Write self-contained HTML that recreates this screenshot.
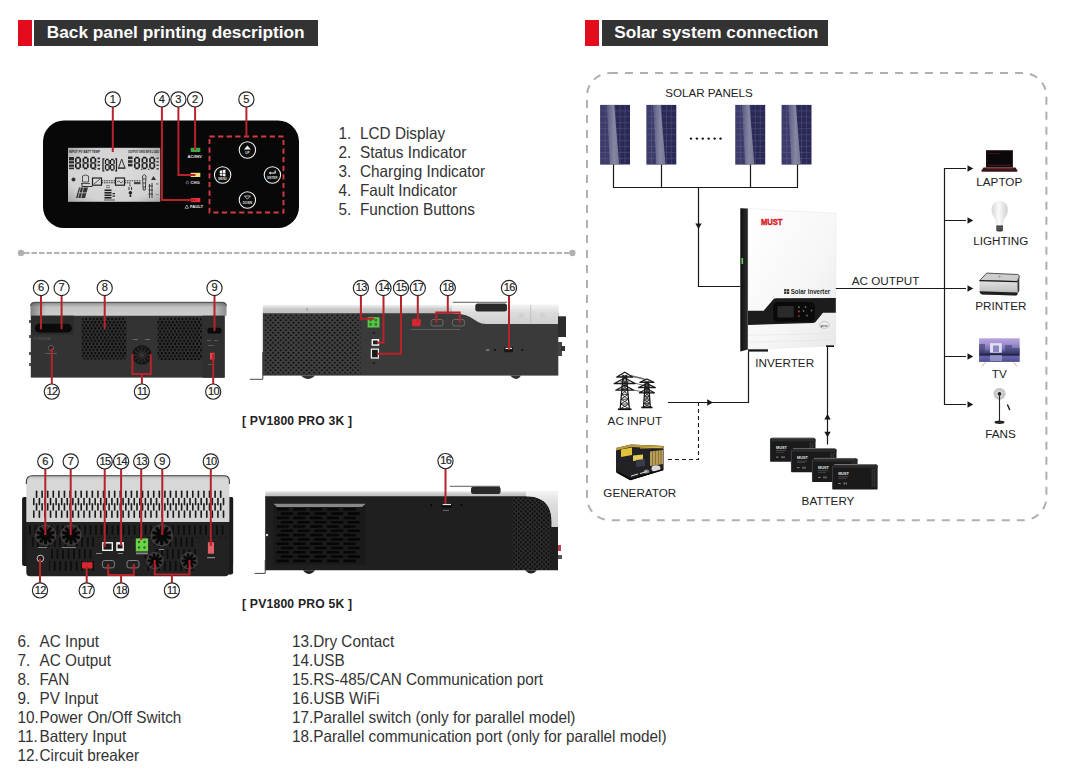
<!DOCTYPE html><html><head><meta charset="utf-8"><style>html,body{margin:0;padding:0;background:#fff;}svg{display:block;}text{font-family:"Liberation Sans",sans-serif;}</style></head><body>
<svg width="1068" height="781" viewBox="0 0 1068 781">
<defs><linearGradient id="silver" x1="0" y1="0" x2="0" y2="1"><stop offset="0" stop-color="#8a8a8a"/><stop offset="0.35" stop-color="#c4c4c4"/><stop offset="1" stop-color="#cdcdcd"/></linearGradient><linearGradient id="silverEnds" x1="0" y1="0" x2="1" y2="0"><stop offset="0" stop-color="#000" stop-opacity="0.35"/><stop offset="0.08" stop-color="#000" stop-opacity="0"/><stop offset="0.92" stop-color="#000" stop-opacity="0"/><stop offset="1" stop-color="#000" stop-opacity="0.3"/></linearGradient><linearGradient id="silverH" x1="0" y1="0" x2="1" y2="0"><stop offset="0" stop-color="#b8b8b8"/><stop offset="0.5" stop-color="#e0e0e0"/><stop offset="1" stop-color="#c8c8c8"/></linearGradient><pattern id="hex" width="3.7" height="6.2" patternUnits="userSpaceOnUse" x="81.5" y="317.5"><rect width="3.7" height="6.2" fill="#343434"/><circle cx="0.925" cy="1.55" r="1.3" fill="#0a0a0a"/><circle cx="2.775" cy="4.65" r="1.3" fill="#0a0a0a"/></pattern><pattern id="dots" width="5.15" height="5" patternUnits="userSpaceOnUse" x="264" y="314"><rect width="5.15" height="5" fill="#404040"/><circle cx="1.3" cy="1.25" r="1.0" fill="#0a0a0a"/><circle cx="3.85" cy="3.75" r="1.0" fill="#0a0a0a"/></pattern><pattern id="dots2" width="4.6" height="4.4" patternUnits="userSpaceOnUse"><rect width="4.6" height="4.4" fill="#2e2e2e"/><circle cx="1.15" cy="1.1" r="1.0" fill="#050505"/><circle cx="3.45" cy="3.3" r="1.0" fill="#050505"/></pattern><linearGradient id="panelStreak" x1="0" y1="0" x2="1" y2="0"><stop offset="0" stop-color="#5a5a82"/><stop offset="0.6" stop-color="#9494ac"/><stop offset="1" stop-color="#7c7c98"/></linearGradient></defs>
<rect x="18" y="20" width="14" height="26" fill="#e20c1c"/>
<rect x="34" y="20" width="284" height="26" fill="#333333"/>
<text x="46.8" y="38" font-size="17.25" font-weight="bold" fill="#fff">Back panel printing description</text>
<rect x="585" y="20" width="14" height="26" fill="#e20c1c"/>
<rect x="602" y="20" width="226" height="26" fill="#333333"/>
<text x="614.2" y="38" font-size="17.25" font-weight="bold" fill="#fff">Solar system connection</text>
<rect x="43" y="120.5" width="256" height="107.5" rx="21" fill="#080808"/>
<radialGradient id="lcdG" cx="0.5" cy="0.5" r="0.7"><stop offset="0" stop-color="#dcdcdc"/><stop offset="0.7" stop-color="#d2d2d2"/><stop offset="1" stop-color="#a8a8a8"/></radialGradient><rect x="68" y="147.8" width="92.2" height="54" fill="url(#lcdG)"/>
<g fill="#2a2a2a">
<text x="69" y="153.3" font-size="3.2" font-weight="bold" textLength="31" lengthAdjust="spacingAndGlyphs">INPUT  PV BATT TEMP</text>
<text x="128" y="153.3" font-size="3.2" font-weight="bold" textLength="31" lengthAdjust="spacingAndGlyphs">OUTPUT GRID BYS LOAD</text>
</g>
<g stroke="#1c1c1c" stroke-width="1.7" stroke-linecap="butt" fill="none"><path d="M76.3 157.7 H79.7 M80.2 158.2 V162.5 M80.2 163.5 V167.79999999999998 M79.7 168.29999999999998 H76.3 M75.8 167.79999999999998 V163.5 M75.8 162.5 V158.2 M76.3 163.0 H79.7"/></g>
<g stroke="#1c1c1c" stroke-width="1.7" stroke-linecap="butt" fill="none"><path d="M83.89999999999999 157.7 H87.3 M87.8 158.2 V162.5 M87.8 163.5 V167.79999999999998 M87.3 168.29999999999998 H83.89999999999999 M83.39999999999999 167.79999999999998 V163.5 M83.39999999999999 162.5 V158.2 M83.89999999999999 163.0 H87.3"/></g>
<g stroke="#1c1c1c" stroke-width="1.7" stroke-linecap="butt" fill="none"><path d="M91.5 157.7 H94.9 M95.4 158.2 V162.5 M95.4 163.5 V167.79999999999998 M94.9 168.29999999999998 H91.5 M91.0 167.79999999999998 V163.5 M91.0 162.5 V158.2 M91.5 163.0 H94.9"/></g>
<circle cx="95.2" cy="169.2" r="0.7" fill="#1c1c1c"/>
<g fill="#2a2a2a"><rect x="69" y="157" width="5" height="3.4"/><rect x="69" y="161.2" width="5" height="2.2"/><rect x="69" y="164.6" width="5" height="2.2"/><rect x="69" y="167.6" width="5" height="1.6"/></g>
<g fill="#333"><rect x="97.5" y="157.5" width="2.5" height="1.8"/><rect x="97.5" y="161" width="2.5" height="1.6"/><rect x="97.5" y="164.5" width="2.5" height="1.6"/><rect x="97.5" y="168" width="2.5" height="1.6"/></g>
<path d="M104.5 158.8 H103 V171 H104.5 M115 158.8 H116.5 V171 H115" stroke="#1c1c1c" stroke-width="1.2" fill="none"/>
<g stroke="#1c1c1c" stroke-width="1.3" stroke-linecap="butt" fill="none"><path d="M106.0 159.5 H108.6 M109.1 160.0 V164.25 M109.1 165.25 V169.5 M108.6 170.0 H106.0 M105.5 169.5 V165.25 M105.5 164.25 V160.0 M106.0 164.75 H108.6"/></g>
<g stroke="#1c1c1c" stroke-width="1.3" stroke-linecap="butt" fill="none"><path d="M111.0 159.5 H113.6 M114.1 160.0 V164.25 M114.1 165.25 V169.5 M113.6 170.0 H111.0 M110.5 169.5 V165.25 M110.5 164.25 V160.0 M111.0 164.75 H113.6"/></g>
<path d="M118.5 168 L121.7 159 L125 168 Z" fill="none" stroke="#333" stroke-width="1"/><rect x="118" y="167.5" width="7.5" height="1.5" fill="#444"/>
<g stroke="#1c1c1c" stroke-width="1.7" stroke-linecap="butt" fill="none"><path d="M135.3 157.7 H138.70000000000002 M139.20000000000002 158.2 V162.5 M139.20000000000002 163.5 V167.79999999999998 M138.70000000000002 168.29999999999998 H135.3 M134.8 167.79999999999998 V163.5 M134.8 162.5 V158.2 M135.3 163.0 H138.70000000000002"/></g>
<g stroke="#1c1c1c" stroke-width="1.7" stroke-linecap="butt" fill="none"><path d="M142.9 157.7 H146.3 M146.8 158.2 V162.5 M146.8 163.5 V167.79999999999998 M146.3 168.29999999999998 H142.9 M142.4 167.79999999999998 V163.5 M142.4 162.5 V158.2 M142.9 163.0 H146.3"/></g>
<g stroke="#1c1c1c" stroke-width="1.7" stroke-linecap="butt" fill="none"><path d="M150.5 157.7 H153.9 M154.4 158.2 V162.5 M154.4 163.5 V167.79999999999998 M153.9 168.29999999999998 H150.5 M150.0 167.79999999999998 V163.5 M150.0 162.5 V158.2 M150.5 163.0 H153.9"/></g>
<circle cx="141.8" cy="169.2" r="0.7" fill="#1c1c1c"/><circle cx="148.8" cy="169.2" r="0.7" fill="#1c1c1c"/>
<g fill="#2a2a2a"><rect x="128" y="156.5" width="4.5" height="2.6"/><rect x="128" y="160.2" width="4.5" height="2.6"/><rect x="128" y="163.8" width="4.5" height="2.6"/></g>
<g fill="#444"><rect x="156.5" y="157.5" width="2.2" height="1.6"/><rect x="156.5" y="161" width="2.2" height="1.6"/><rect x="156.5" y="164.5" width="2.2" height="1.6"/><rect x="156.5" y="168" width="2.2" height="1.6"/></g>
<circle cx="73.5" cy="179.5" r="2" fill="#333"/>
<path d="M82.5 182 V176 Q85.5 174 88.5 176 V182 Z" fill="none" stroke="#444" stroke-width="0.9"/><path d="M81 183.5 H90" stroke="#444" stroke-width="0.9"/>
<path d="M82 183.5 V186.5 H92.5" stroke="#333" stroke-width="1" fill="none"/>
<rect x="92.5" y="178" width="9" height="7.2" fill="none" stroke="#222" stroke-width="1.2"/><path d="M94 184 L100 179" stroke="#333" stroke-width="0.8"/>
<path d="M101.5 180.8 H115" stroke="#222" stroke-width="0.9" stroke-dasharray="1.6 0.8"/><path d="M101.5 182.8 H115" stroke="#222" stroke-width="0.9" stroke-dasharray="1.6 0.8"/>
<rect x="115.5" y="178" width="9" height="7.2" fill="none" stroke="#222" stroke-width="1.2"/><path d="M117 182 Q119 179.5 120 182 T123 181" stroke="#333" stroke-width="0.8" fill="none"/>
<path d="M124.5 180.8 H141" stroke="#222" stroke-width="0.9" stroke-dasharray="1.6 0.8"/><path d="M124.5 182.8 H130 V187" stroke="#222" stroke-width="0.9" fill="none" stroke-dasharray="1.6 0.8"/>
<path d="M107 185 V189" stroke="#222" stroke-width="0.9" stroke-dasharray="1.2 0.8"/><path d="M109 185 V189" stroke="#222" stroke-width="0.9" stroke-dasharray="1.2 0.8"/>
<g fill="#222"><rect x="104.5" y="189.5" width="7" height="1.6"/><rect x="104.5" y="192" width="7" height="1.6"/><rect x="104.5" y="194.5" width="7" height="1.6"/><rect x="104.5" y="197" width="7" height="1.6"/><rect x="112.5" y="193" width="2.5" height="1.2"/><rect x="112.5" y="195.5" width="2.5" height="1.2"/></g>
<rect x="104" y="199.5" width="11" height="1" fill="#555"/>
<path d="M129 187 V190 M131.5 187 V190" stroke="#222" stroke-width="0.9"/><circle cx="130.4" cy="192.8" r="1.8" fill="#222"/><rect x="129.6" y="194.5" width="1.6" height="2.5" fill="#222"/>
<rect x="134" y="182" width="6.5" height="2.2" fill="#444"/>
<path d="M142.5 176 L144.3 174.5 L146 176 L145.3 190 H143.2 Z M143 179 H145.5 M143 183 H145.5 M143 187 H145.5" fill="none" stroke="#333" stroke-width="0.9"/>
<path d="M151 180 L153.5 176 L156 180 Z" fill="#333"/>
<path d="M149.5 184 V198 M152 183 V198 M148.5 186 H153 M148.5 190 H153 M148.5 194 H153" stroke="#333" stroke-width="0.9"/>
<rect x="156" y="183.5" width="2.5" height="0.9" fill="#555"/><rect x="156" y="194" width="2.5" height="0.9" fill="#777"/>
<path d="M76 198 L79 187.5 H88 L85 198 Z" fill="#333"/><path d="M78.5 192.8 H87 M80.5 187.5 L78 198 M83.5 187.5 L81 198" stroke="#d4d4d4" stroke-width="0.7"/>
<rect x="190.7" y="147.8" width="9.6" height="4.2" fill="#3aa848"/>
<rect x="190.7" y="172.8" width="9.6" height="4.2" fill="#f0e07a"/>
<rect x="190.7" y="198" width="9.6" height="4.2" fill="#e0303a"/>
<g fill="#e8e8e8" font-weight="bold" font-size="4.2"><text x="187.5" y="157.8">AC/INV</text><text x="190.5" y="184.2">CHG</text><text x="190" y="208.4">FAULT</text></g>
<circle cx="187.3" cy="182.6" r="1.3" fill="none" stroke="#bbb" stroke-width="0.5"/>
<path d="M185 208.3 L186.8 205 L188.6 208.3 Z" fill="none" stroke="#ddd" stroke-width="0.6"/>
<rect x="209.5" y="136.5" width="74" height="76" fill="none" stroke="#d23a44" stroke-width="1.9" stroke-dasharray="5.2 3.4"/>
<circle cx="247.4" cy="150" r="8.2" fill="#0c0c0c" stroke="#f0f0f0" stroke-width="1.1"/>
<path d="M244.0 149.4 L247.4 145.4 L250.8 149.4 Z" fill="#f4f4f4"/>
<text x="247.4" y="153.6" font-size="3.2" fill="#ddd" text-anchor="middle" font-weight="bold">UP</text>
<circle cx="222.6" cy="175" r="8.2" fill="#0c0c0c" stroke="#f0f0f0" stroke-width="1.1"/>
<g fill="#f4f4f4"><path d="M219.79999999999998 170.7 L222.29999999999998 170.2 V172.9 H219.79999999999998 Z M222.9 170.1 L225.5 169.6 V172.9 H222.9 Z M219.79999999999998 173.4 H222.29999999999998 V175.9 L219.79999999999998 175.4 Z M222.9 173.4 H225.5 V176.5 L222.9 176 Z"/></g>
<text x="222.6" y="179.6" font-size="3" fill="#ddd" text-anchor="middle" font-weight="bold">MENU</text>
<circle cx="272.4" cy="175" r="8.2" fill="#0c0c0c" stroke="#f0f0f0" stroke-width="1.1"/>
<path d="M275.2 170.5 V173 H269.9" stroke="#f4f4f4" stroke-width="1.1" fill="none"/><path d="M268.79999999999995 173 L270.59999999999997 171.6 V174.4 Z" fill="#f4f4f4"/>
<text x="272.4" y="178.8" font-size="3" fill="#ddd" text-anchor="middle" font-weight="bold">ENTER</text>
<circle cx="247.4" cy="200" r="8.2" fill="#0c0c0c" stroke="#f0f0f0" stroke-width="1.1"/>
<path d="M244.4 196 L247.4 199.2 L250.4 196 Z" fill="none" stroke="#eee" stroke-width="0.7"/>
<text x="247.4" y="203.6" font-size="3" fill="#ddd" text-anchor="middle" font-weight="bold">DOWN</text>
<polyline points="112.8,107 112.8,152" fill="none" stroke="#b8222b" stroke-width="2" stroke-linejoin="miter"/>
<polyline points="195.1,107 195.1,150" fill="none" stroke="#b8222b" stroke-width="2" stroke-linejoin="miter"/>
<polyline points="178.4,107 178.4,175 195.5,175" fill="none" stroke="#b8222b" stroke-width="2" stroke-linejoin="miter"/>
<polyline points="161.9,107 161.9,200 195.5,200" fill="none" stroke="#b8222b" stroke-width="2" stroke-linejoin="miter"/>
<polyline points="246.4,107 246.4,136.5" fill="none" stroke="#b8222b" stroke-width="2" stroke-linejoin="miter"/>
<circle cx="112.8" cy="99.4" r="7.6" fill="#fff" stroke="#262626" stroke-width="1.15"/>
<text x="112.8" y="102.65" font-size="11" text-anchor="middle" fill="#1e1e1e" stroke="#1e1e1e" stroke-width="0.2">1</text>
<circle cx="161.9" cy="99.4" r="7.6" fill="#fff" stroke="#262626" stroke-width="1.15"/>
<text x="161.9" y="102.65" font-size="11" text-anchor="middle" fill="#1e1e1e" stroke="#1e1e1e" stroke-width="0.2">4</text>
<circle cx="178.4" cy="99.4" r="7.6" fill="#fff" stroke="#262626" stroke-width="1.15"/>
<text x="178.4" y="102.65" font-size="11" text-anchor="middle" fill="#1e1e1e" stroke="#1e1e1e" stroke-width="0.2">3</text>
<circle cx="195.1" cy="99.4" r="7.6" fill="#fff" stroke="#262626" stroke-width="1.15"/>
<text x="195.1" y="102.65" font-size="11" text-anchor="middle" fill="#1e1e1e" stroke="#1e1e1e" stroke-width="0.2">2</text>
<circle cx="246.4" cy="99.4" r="7.6" fill="#fff" stroke="#262626" stroke-width="1.15"/>
<text x="246.4" y="102.65" font-size="11" text-anchor="middle" fill="#1e1e1e" stroke="#1e1e1e" stroke-width="0.2">5</text>
<g font-size="16.31" fill="#333333" transform="scale(0.94,1)">
<text x="360.11" y="139">1.</text><text x="382.98" y="139">LCD Display</text>
<text x="360.11" y="158">2.</text><text x="382.98" y="158">Status Indicator</text>
<text x="360.11" y="177">3.</text><text x="382.98" y="177">Charging Indicator</text>
<text x="360.11" y="196">4.</text><text x="382.98" y="196">Fault Indicator</text>
<text x="360.11" y="215">5.</text><text x="382.98" y="215">Function Buttons</text>
</g>
<line x1="24" y1="253" x2="569" y2="253" stroke="#b4b4b4" stroke-width="2" stroke-dasharray="5.5 2"/>
<circle cx="21" cy="253" r="3.2" fill="#b0b0b0"/><circle cx="572.4" cy="253" r="3.2" fill="#b0b0b0"/>
<g font-size="16.31" fill="#333333" transform="scale(0.94,1)">
<text x="18.62" y="647">6.</text><text x="42.02" y="647">AC Input</text>
<text x="18.62" y="666">7.</text><text x="42.02" y="666">AC Output</text>
<text x="18.62" y="685">8.</text><text x="42.02" y="685">FAN</text>
<text x="18.62" y="704">9.</text><text x="42.02" y="704">PV Input</text>
<text x="18.62" y="723">10.</text><text x="42.02" y="723">Power On/Off Switch</text>
<text x="18.62" y="742">11.</text><text x="42.02" y="742">Battery Input</text>
<text x="18.62" y="761">12.</text><text x="42.02" y="761">Circuit breaker</text>
<text x="310.64" y="647">13.Dry Contact</text>
<text x="310.64" y="666">14.USB</text>
<text x="310.64" y="685">15.RS-485/CAN Communication port</text>
<text x="310.64" y="704">16.USB WiFi</text>
<text x="310.64" y="723">17.Parallel switch (only for parallel model)</text>
<text x="310.64" y="742">18.Parallel communication port (only for parallel model)</text>
</g>
<text x="242" y="425" font-size="12.2" font-weight="bold" fill="#222" letter-spacing="0.19">[ PV1800 PRO 3K ]</text>
<text x="242" y="608.2" font-size="12.2" font-weight="bold" fill="#222" letter-spacing="0.19">[ PV1800 PRO 5K ]</text>
<path d="M30.5 315.7 V306 Q30.5 302.3 34.5 302.3 H222.5 Q226.5 302.3 226.5 306 V315.7 Z" fill="url(#silver)"/>
<path d="M30.5 315.7 V306 Q30.5 302.3 34.5 302.3 H222.5 Q226.5 302.3 226.5 306 V315.7 Z" fill="url(#silverEnds)"/>
<path d="M30.5 306 Q30.5 302.3 34.5 302.3 H222.5 Q226.5 302.3 226.5 306" fill="none" stroke="#3a3a3a" stroke-width="0.9"/>
<rect x="30.8" y="315.7" width="193.9" height="61.9" fill="#333333"/>
<rect x="31" y="315.7" width="43" height="19" fill="#2b2b2b"/>
<rect x="34.8" y="323.8" width="37" height="8.8" rx="4.4" fill="#0a0a0a"/>
<g fill="#666" font-size="2.6"><text x="34" y="340">LC   IN     OUT   AC</text></g>
<circle cx="51" cy="348.2" r="2.7" fill="#222" stroke="#777" stroke-width="0.7"/>
<rect x="45" y="353" width="12" height="0.8" fill="#666"/>
<rect x="81.5" y="317.5" width="45" height="42" rx="3" fill="url(#hex)"/>
<rect x="157.5" y="317.5" width="44.5" height="42.5" rx="3" fill="url(#hex)"/>
<rect x="202.5" y="315.7" width="22" height="62" fill="#2f2f2f"/>
<rect x="207.3" y="327.7" width="14.3" height="5.9" rx="2.9" fill="#0a0a0a"/>
<g fill="#666"><rect x="207" y="340" width="4" height="0.8"/><rect x="214" y="340" width="4" height="0.8"/><rect x="208" y="345" width="6" height="0.8"/><rect x="208" y="364" width="6" height="0.8"/></g>
<rect x="210" y="352.8" width="4.5" height="6.8" fill="#e8404a"/>
<circle cx="141.9" cy="355" r="9.8" fill="#151515"/>
<g stroke="#3a3a3a" stroke-width="0.9"><line x1="141.9" y1="355" x2="150.40" y2="355.00"/><line x1="141.9" y1="355" x2="149.26" y2="359.25"/><line x1="141.9" y1="355" x2="146.15" y2="362.36"/><line x1="141.9" y1="355" x2="141.90" y2="363.50"/><line x1="141.9" y1="355" x2="137.65" y2="362.36"/><line x1="141.9" y1="355" x2="134.54" y2="359.25"/><line x1="141.9" y1="355" x2="133.40" y2="355.00"/><line x1="141.9" y1="355" x2="134.54" y2="350.75"/><line x1="141.9" y1="355" x2="137.65" y2="347.64"/><line x1="141.9" y1="355" x2="141.90" y2="346.50"/><line x1="141.9" y1="355" x2="146.15" y2="347.64"/><line x1="141.9" y1="355" x2="149.26" y2="350.75"/></g>
<g fill="#777"><rect x="133" y="339" width="5" height="0.8"/><rect x="145" y="339" width="5" height="0.8"/></g>
<g fill="#555"><rect x="29" y="320" width="2" height="3"/><rect x="29" y="335" width="2" height="3"/><rect x="29" y="352" width="2" height="3"/><rect x="29" y="363" width="2" height="3"/></g>
<polyline points="41,296 41,329.2" fill="none" stroke="#b8222b" stroke-width="2" stroke-linejoin="miter"/>
<polyline points="61.6,296 61.6,329.2" fill="none" stroke="#b8222b" stroke-width="2" stroke-linejoin="miter"/>
<polyline points="104.7,296 104.7,329" fill="none" stroke="#b8222b" stroke-width="2" stroke-linejoin="miter"/>
<polyline points="214.5,296 214.5,331" fill="none" stroke="#b8222b" stroke-width="2" stroke-linejoin="miter"/>
<polyline points="51.8,384 51.8,348" fill="none" stroke="#b8222b" stroke-width="2" stroke-linejoin="miter"/>
<polyline points="141.9,384 141.9,374 132.4,374 132.4,354" fill="none" stroke="#b8222b" stroke-width="2" stroke-linejoin="miter"/>
<polyline points="141.9,374 150.8,374 150.8,354" fill="none" stroke="#b8222b" stroke-width="2" stroke-linejoin="miter"/>
<polyline points="213.2,384 213.2,354" fill="none" stroke="#b8222b" stroke-width="2" stroke-linejoin="miter"/>
<circle cx="41" cy="288" r="7.6" fill="#fff" stroke="#262626" stroke-width="1.15"/>
<text x="41" y="291.25" font-size="11" text-anchor="middle" fill="#1e1e1e" stroke="#1e1e1e" stroke-width="0.2">6</text>
<circle cx="61.6" cy="288" r="7.6" fill="#fff" stroke="#262626" stroke-width="1.15"/>
<text x="61.6" y="291.25" font-size="11" text-anchor="middle" fill="#1e1e1e" stroke="#1e1e1e" stroke-width="0.2">7</text>
<circle cx="104.7" cy="288" r="7.6" fill="#fff" stroke="#262626" stroke-width="1.15"/>
<text x="104.7" y="291.25" font-size="11" text-anchor="middle" fill="#1e1e1e" stroke="#1e1e1e" stroke-width="0.2">8</text>
<circle cx="214.5" cy="288" r="7.6" fill="#fff" stroke="#262626" stroke-width="1.15"/>
<text x="214.5" y="291.25" font-size="11" text-anchor="middle" fill="#1e1e1e" stroke="#1e1e1e" stroke-width="0.2">9</text>
<circle cx="51.8" cy="391.6" r="7.6" fill="#fff" stroke="#262626" stroke-width="1.15"/>
<text x="52.099999999999994" y="394.85" font-size="11" text-anchor="middle" fill="#1e1e1e" stroke="#1e1e1e" stroke-width="0.2" letter-spacing="-0.6">12</text>
<circle cx="141.9" cy="391.6" r="7.6" fill="#fff" stroke="#262626" stroke-width="1.15"/>
<text x="142.20000000000002" y="394.85" font-size="11" text-anchor="middle" fill="#1e1e1e" stroke="#1e1e1e" stroke-width="0.2" letter-spacing="-0.6">11</text>
<circle cx="213.2" cy="391.6" r="7.6" fill="#fff" stroke="#262626" stroke-width="1.15"/>
<text x="213.5" y="394.85" font-size="11" text-anchor="middle" fill="#1e1e1e" stroke="#1e1e1e" stroke-width="0.2" letter-spacing="-0.6">10</text>
<linearGradient id="sideSilver" x1="0" y1="0" x2="0" y2="1"><stop offset="0" stop-color="#f2f2f2"/><stop offset="0.5" stop-color="#c8c8c8"/><stop offset="1" stop-color="#bdbdbd"/></linearGradient>
<linearGradient id="sideSilver2" x1="0" y1="0" x2="0" y2="1"><stop offset="0" stop-color="#f4f4f4"/><stop offset="0.4" stop-color="#dcdcdc"/><stop offset="1" stop-color="#d0d0d0"/></linearGradient>
<rect x="262.8" y="304.8" width="295.5" height="8.6" fill="url(#sideSilver)"/>
<rect x="262.8" y="313.2" width="295.5" height="62.4" fill="#3a3a3a"/>
<path d="M452 313.3 Q462 313.3 470 317 L478 322 Q481 324 486 324 H558.3 V304.8 H452 Z" fill="url(#sideSilver2)"/>
<line x1="530.7" y1="305" x2="530.7" y2="324" stroke="#b8b8b8" stroke-width="0.7"/>
<rect x="520" y="314" width="3" height="3" fill="none" stroke="#bbb" stroke-width="0.5"/><rect x="541" y="314" width="3" height="3" fill="none" stroke="#bbb" stroke-width="0.5"/>
<rect x="475.3" y="303.5" width="31.7" height="8" rx="2.5" fill="#2a2a2a"/>
<line x1="452.8" y1="302.3" x2="507" y2="302.3" stroke="#333" stroke-width="0.8"/>
<rect x="558" y="316.3" width="8" height="20.7" fill="#2c2c2c"/>
<rect x="558" y="342" width="4" height="14" fill="#444"/><rect x="561" y="346" width="4" height="5" fill="#333"/>
<rect x="264.9" y="314.5" width="95.5" height="60.5" fill="url(#dots)"/>
<rect x="306" y="308" width="2" height="3" fill="#aaa"/>
<path d="M301 375.6 Q304 379 308 379 Q312 379 315 375.6 Z" fill="#333"/><path d="M510 375.6 Q513 379 516 379 Q519 379 521 375.6 Z" fill="#333"/>
<polyline points="249.8,379.3 262.8,379.3 262.8,352" fill="none" stroke="#333" stroke-width="0.9"/>
<rect x="367.6" y="317.2" width="11.9" height="10.3" fill="#5cc84a"/>
<g fill="#2f7a2a"><rect x="369.3" y="318.8" width="2.6" height="2.6"/><rect x="374.5" y="318.8" width="2.6" height="2.6"/><rect x="369.3" y="323" width="2.6" height="2.6"/><rect x="374.5" y="323" width="2.6" height="2.6"/></g>
<circle cx="374" cy="333" r="1.3" fill="#222"/><circle cx="374" cy="363" r="1.3" fill="#222"/>
<rect x="371.6" y="339" width="7.6" height="6.8" fill="#f2f2f2"/><rect x="373" y="340.5" width="4.8" height="3.8" fill="#222"/>
<rect x="370.8" y="348.5" width="8.2" height="10.1" fill="#f2f2f2"/><rect x="372" y="349.8" width="5.8" height="7.5" fill="#1a1a1a"/>
<rect x="412" y="318.8" width="8.7" height="7.5" rx="1.5" fill="#d8262e"/>
<rect x="431" y="319.5" width="12" height="6.5" rx="2" fill="none" stroke="#777" stroke-width="0.8"/><rect x="452.5" y="319.5" width="12" height="6.5" rx="2" fill="none" stroke="#777" stroke-width="0.8"/>
<rect x="410" y="329" width="50" height="0.8" fill="#666"/>
<circle cx="495" cy="350" r="1.1" fill="#111"/><circle cx="522.2" cy="350" r="1.1" fill="#111"/><rect x="486" y="349.4" width="3.5" height="1.4" fill="#888"/>
<rect x="504.3" y="347.1" width="8.7" height="5.1" rx="0.8" fill="#151515"/><rect x="505.5" y="347.8" width="6.4" height="1.2" fill="#eee"/>
<polyline points="360.9,296 360.9,318.8 374,318.8" fill="none" stroke="#b8222b" stroke-width="2" stroke-linejoin="miter"/>
<polyline points="383.5,296 383.5,342.7 377,342.7" fill="none" stroke="#b8222b" stroke-width="2" stroke-linejoin="miter"/>
<polyline points="401,296 401,353.8 377,353.8" fill="none" stroke="#b8222b" stroke-width="2" stroke-linejoin="miter"/>
<polyline points="417.8,296 417.8,322" fill="none" stroke="#b8222b" stroke-width="2" stroke-linejoin="miter"/>
<polyline points="447.8,296 447.8,312.4" fill="none" stroke="#b8222b" stroke-width="2" stroke-linejoin="miter"/>
<polyline points="436.3,322.8 436.3,312.4 459.7,312.4 459.7,322.8" fill="none" stroke="#b8222b" stroke-width="2" stroke-linejoin="miter"/>
<polyline points="509,296 509,350" fill="none" stroke="#b8222b" stroke-width="2" stroke-linejoin="miter"/>
<circle cx="360.9" cy="288" r="7.6" fill="#fff" stroke="#262626" stroke-width="1.15"/>
<text x="361.2" y="291.25" font-size="11" text-anchor="middle" fill="#1e1e1e" stroke="#1e1e1e" stroke-width="0.2" letter-spacing="-0.6">13</text>
<circle cx="383.5" cy="288" r="7.6" fill="#fff" stroke="#262626" stroke-width="1.15"/>
<text x="383.8" y="291.25" font-size="11" text-anchor="middle" fill="#1e1e1e" stroke="#1e1e1e" stroke-width="0.2" letter-spacing="-0.6">14</text>
<circle cx="401" cy="288" r="7.6" fill="#fff" stroke="#262626" stroke-width="1.15"/>
<text x="401.3" y="291.25" font-size="11" text-anchor="middle" fill="#1e1e1e" stroke="#1e1e1e" stroke-width="0.2" letter-spacing="-0.6">15</text>
<circle cx="417.8" cy="288" r="7.6" fill="#fff" stroke="#262626" stroke-width="1.15"/>
<text x="418.1" y="291.25" font-size="11" text-anchor="middle" fill="#1e1e1e" stroke="#1e1e1e" stroke-width="0.2" letter-spacing="-0.6">17</text>
<circle cx="447.8" cy="288" r="7.6" fill="#fff" stroke="#262626" stroke-width="1.15"/>
<text x="448.1" y="291.25" font-size="11" text-anchor="middle" fill="#1e1e1e" stroke="#1e1e1e" stroke-width="0.2" letter-spacing="-0.6">18</text>
<circle cx="509" cy="288" r="7.6" fill="#fff" stroke="#262626" stroke-width="1.15"/>
<text x="509.3" y="291.25" font-size="11" text-anchor="middle" fill="#1e1e1e" stroke="#1e1e1e" stroke-width="0.2" letter-spacing="-0.6">16</text>
<linearGradient id="silver5" x1="0" y1="0" x2="0" y2="1"><stop offset="0" stop-color="#c0c0c0"/><stop offset="0.1" stop-color="#d8d8d8"/><stop offset="1" stop-color="#d4d4d4"/></linearGradient>
<rect x="22.1" y="497" width="211" height="69" rx="2" fill="#1a1a1a"/><rect x="200" y="497" width="33.1" height="77.5" rx="2" fill="#1a1a1a"/>
<path d="M26.3 522 V482 Q26.3 475.7 32.5 475.7 H224 Q229.4 475.7 229.4 481 V522 Z" fill="url(#silver5)"/>
<path d="M26.3 484 V482 Q26.3 475.7 32.5 475.7 H224 Q229.4 475.7 229.4 481 V484" fill="none" stroke="#3a3a3a" stroke-width="1.1"/>
<g fill="#1a1a1a"><rect x="35.75" y="490.4" width="1.6" height="7.6" rx="0.8"/><rect x="35.75" y="503" width="1.6" height="7.8" rx="0.8"/><rect x="33.00" y="497.7" width="1.6" height="7.7" rx="0.8"/><rect x="33.00" y="510.2" width="1.6" height="7.8" rx="0.8"/><rect x="41.33" y="490.4" width="1.6" height="7.6" rx="0.8"/><rect x="41.33" y="503" width="1.6" height="7.8" rx="0.8"/><rect x="38.58" y="497.7" width="1.6" height="7.7" rx="0.8"/><rect x="38.58" y="510.2" width="1.6" height="7.8" rx="0.8"/><rect x="46.91" y="490.4" width="1.6" height="7.6" rx="0.8"/><rect x="46.91" y="503" width="1.6" height="7.8" rx="0.8"/><rect x="44.16" y="497.7" width="1.6" height="7.7" rx="0.8"/><rect x="44.16" y="510.2" width="1.6" height="7.8" rx="0.8"/><rect x="52.49" y="490.4" width="1.6" height="7.6" rx="0.8"/><rect x="52.49" y="503" width="1.6" height="7.8" rx="0.8"/><rect x="49.74" y="497.7" width="1.6" height="7.7" rx="0.8"/><rect x="49.74" y="510.2" width="1.6" height="7.8" rx="0.8"/><rect x="58.07" y="490.4" width="1.6" height="7.6" rx="0.8"/><rect x="58.07" y="503" width="1.6" height="7.8" rx="0.8"/><rect x="55.32" y="497.7" width="1.6" height="7.7" rx="0.8"/><rect x="55.32" y="510.2" width="1.6" height="7.8" rx="0.8"/><rect x="63.65" y="490.4" width="1.6" height="7.6" rx="0.8"/><rect x="63.65" y="503" width="1.6" height="7.8" rx="0.8"/><rect x="60.90" y="497.7" width="1.6" height="7.7" rx="0.8"/><rect x="60.90" y="510.2" width="1.6" height="7.8" rx="0.8"/><rect x="69.23" y="490.4" width="1.6" height="7.6" rx="0.8"/><rect x="69.23" y="503" width="1.6" height="7.8" rx="0.8"/><rect x="66.48" y="497.7" width="1.6" height="7.7" rx="0.8"/><rect x="66.48" y="510.2" width="1.6" height="7.8" rx="0.8"/><rect x="74.81" y="490.4" width="1.6" height="7.6" rx="0.8"/><rect x="74.81" y="503" width="1.6" height="7.8" rx="0.8"/><rect x="72.06" y="497.7" width="1.6" height="7.7" rx="0.8"/><rect x="72.06" y="510.2" width="1.6" height="7.8" rx="0.8"/><rect x="80.39" y="490.4" width="1.6" height="7.6" rx="0.8"/><rect x="80.39" y="503" width="1.6" height="7.8" rx="0.8"/><rect x="77.64" y="497.7" width="1.6" height="7.7" rx="0.8"/><rect x="77.64" y="510.2" width="1.6" height="7.8" rx="0.8"/><rect x="85.97" y="490.4" width="1.6" height="7.6" rx="0.8"/><rect x="85.97" y="503" width="1.6" height="7.8" rx="0.8"/><rect x="83.22" y="497.7" width="1.6" height="7.7" rx="0.8"/><rect x="83.22" y="510.2" width="1.6" height="7.8" rx="0.8"/><rect x="91.55" y="490.4" width="1.6" height="7.6" rx="0.8"/><rect x="91.55" y="503" width="1.6" height="7.8" rx="0.8"/><rect x="88.80" y="497.7" width="1.6" height="7.7" rx="0.8"/><rect x="88.80" y="510.2" width="1.6" height="7.8" rx="0.8"/><rect x="97.13" y="490.4" width="1.6" height="7.6" rx="0.8"/><rect x="97.13" y="503" width="1.6" height="7.8" rx="0.8"/><rect x="94.38" y="497.7" width="1.6" height="7.7" rx="0.8"/><rect x="94.38" y="510.2" width="1.6" height="7.8" rx="0.8"/><rect x="102.71" y="490.4" width="1.6" height="7.6" rx="0.8"/><rect x="102.71" y="503" width="1.6" height="7.8" rx="0.8"/><rect x="99.96" y="497.7" width="1.6" height="7.7" rx="0.8"/><rect x="99.96" y="510.2" width="1.6" height="7.8" rx="0.8"/><rect x="108.29" y="490.4" width="1.6" height="7.6" rx="0.8"/><rect x="108.29" y="503" width="1.6" height="7.8" rx="0.8"/><rect x="105.54" y="497.7" width="1.6" height="7.7" rx="0.8"/><rect x="105.54" y="510.2" width="1.6" height="7.8" rx="0.8"/><rect x="113.87" y="490.4" width="1.6" height="7.6" rx="0.8"/><rect x="113.87" y="503" width="1.6" height="7.8" rx="0.8"/><rect x="111.12" y="497.7" width="1.6" height="7.7" rx="0.8"/><rect x="111.12" y="510.2" width="1.6" height="7.8" rx="0.8"/><rect x="119.45" y="490.4" width="1.6" height="7.6" rx="0.8"/><rect x="119.45" y="503" width="1.6" height="7.8" rx="0.8"/><rect x="116.70" y="497.7" width="1.6" height="7.7" rx="0.8"/><rect x="116.70" y="510.2" width="1.6" height="7.8" rx="0.8"/><rect x="125.03" y="490.4" width="1.6" height="7.6" rx="0.8"/><rect x="125.03" y="503" width="1.6" height="7.8" rx="0.8"/><rect x="122.28" y="497.7" width="1.6" height="7.7" rx="0.8"/><rect x="122.28" y="510.2" width="1.6" height="7.8" rx="0.8"/><rect x="130.61" y="490.4" width="1.6" height="7.6" rx="0.8"/><rect x="130.61" y="503" width="1.6" height="7.8" rx="0.8"/><rect x="127.86" y="497.7" width="1.6" height="7.7" rx="0.8"/><rect x="127.86" y="510.2" width="1.6" height="7.8" rx="0.8"/><rect x="136.19" y="490.4" width="1.6" height="7.6" rx="0.8"/><rect x="136.19" y="503" width="1.6" height="7.8" rx="0.8"/><rect x="133.44" y="497.7" width="1.6" height="7.7" rx="0.8"/><rect x="133.44" y="510.2" width="1.6" height="7.8" rx="0.8"/><rect x="141.77" y="490.4" width="1.6" height="7.6" rx="0.8"/><rect x="141.77" y="503" width="1.6" height="7.8" rx="0.8"/><rect x="139.02" y="497.7" width="1.6" height="7.7" rx="0.8"/><rect x="139.02" y="510.2" width="1.6" height="7.8" rx="0.8"/><rect x="147.35" y="490.4" width="1.6" height="7.6" rx="0.8"/><rect x="147.35" y="503" width="1.6" height="7.8" rx="0.8"/><rect x="144.60" y="497.7" width="1.6" height="7.7" rx="0.8"/><rect x="144.60" y="510.2" width="1.6" height="7.8" rx="0.8"/><rect x="152.93" y="490.4" width="1.6" height="7.6" rx="0.8"/><rect x="152.93" y="503" width="1.6" height="7.8" rx="0.8"/><rect x="150.18" y="497.7" width="1.6" height="7.7" rx="0.8"/><rect x="150.18" y="510.2" width="1.6" height="7.8" rx="0.8"/><rect x="158.51" y="490.4" width="1.6" height="7.6" rx="0.8"/><rect x="158.51" y="503" width="1.6" height="7.8" rx="0.8"/><rect x="155.76" y="497.7" width="1.6" height="7.7" rx="0.8"/><rect x="155.76" y="510.2" width="1.6" height="7.8" rx="0.8"/><rect x="164.09" y="490.4" width="1.6" height="7.6" rx="0.8"/><rect x="164.09" y="503" width="1.6" height="7.8" rx="0.8"/><rect x="161.34" y="497.7" width="1.6" height="7.7" rx="0.8"/><rect x="161.34" y="510.2" width="1.6" height="7.8" rx="0.8"/><rect x="169.67" y="490.4" width="1.6" height="7.6" rx="0.8"/><rect x="169.67" y="503" width="1.6" height="7.8" rx="0.8"/><rect x="166.92" y="497.7" width="1.6" height="7.7" rx="0.8"/><rect x="166.92" y="510.2" width="1.6" height="7.8" rx="0.8"/><rect x="175.25" y="490.4" width="1.6" height="7.6" rx="0.8"/><rect x="175.25" y="503" width="1.6" height="7.8" rx="0.8"/><rect x="172.50" y="497.7" width="1.6" height="7.7" rx="0.8"/><rect x="172.50" y="510.2" width="1.6" height="7.8" rx="0.8"/><rect x="180.83" y="490.4" width="1.6" height="7.6" rx="0.8"/><rect x="180.83" y="503" width="1.6" height="7.8" rx="0.8"/><rect x="178.08" y="497.7" width="1.6" height="7.7" rx="0.8"/><rect x="178.08" y="510.2" width="1.6" height="7.8" rx="0.8"/><rect x="186.41" y="490.4" width="1.6" height="7.6" rx="0.8"/><rect x="186.41" y="503" width="1.6" height="7.8" rx="0.8"/><rect x="183.66" y="497.7" width="1.6" height="7.7" rx="0.8"/><rect x="183.66" y="510.2" width="1.6" height="7.8" rx="0.8"/><rect x="191.99" y="490.4" width="1.6" height="7.6" rx="0.8"/><rect x="191.99" y="503" width="1.6" height="7.8" rx="0.8"/><rect x="189.24" y="497.7" width="1.6" height="7.7" rx="0.8"/><rect x="189.24" y="510.2" width="1.6" height="7.8" rx="0.8"/><rect x="197.57" y="490.4" width="1.6" height="7.6" rx="0.8"/><rect x="197.57" y="503" width="1.6" height="7.8" rx="0.8"/><rect x="194.82" y="497.7" width="1.6" height="7.7" rx="0.8"/><rect x="194.82" y="510.2" width="1.6" height="7.8" rx="0.8"/><rect x="203.15" y="490.4" width="1.6" height="7.6" rx="0.8"/><rect x="203.15" y="503" width="1.6" height="7.8" rx="0.8"/><rect x="200.40" y="497.7" width="1.6" height="7.7" rx="0.8"/><rect x="200.40" y="510.2" width="1.6" height="7.8" rx="0.8"/><rect x="208.73" y="490.4" width="1.6" height="7.6" rx="0.8"/><rect x="208.73" y="503" width="1.6" height="7.8" rx="0.8"/><rect x="205.98" y="497.7" width="1.6" height="7.7" rx="0.8"/><rect x="205.98" y="510.2" width="1.6" height="7.8" rx="0.8"/><rect x="214.31" y="490.4" width="1.6" height="7.6" rx="0.8"/><rect x="214.31" y="503" width="1.6" height="7.8" rx="0.8"/><rect x="211.56" y="497.7" width="1.6" height="7.7" rx="0.8"/><rect x="211.56" y="510.2" width="1.6" height="7.8" rx="0.8"/><rect x="219.89" y="490.4" width="1.6" height="7.6" rx="0.8"/><rect x="219.89" y="503" width="1.6" height="7.8" rx="0.8"/><rect x="217.14" y="497.7" width="1.6" height="7.7" rx="0.8"/><rect x="217.14" y="510.2" width="1.6" height="7.8" rx="0.8"/><rect x="222.72" y="497.7" width="1.6" height="7.7" rx="0.8"/><rect x="222.72" y="510.2" width="1.6" height="7.8" rx="0.8"/></g>
<path d="M26.3 522 H229 V572 Q229 576.3 225 576.3 H30 Q26.3 576.3 26.3 572 Z" fill="#222222"/>
<g fill="#0e0e0e"><rect x="29.0" y="525" width="1.9" height="10" rx="0.9"/><rect x="29.0" y="549" width="1.9" height="10" rx="0.9"/><rect x="31.8" y="537" width="1.9" height="10" rx="0.9"/><rect x="31.8" y="561" width="1.9" height="10" rx="0.9"/><rect x="34.5" y="525" width="1.9" height="10" rx="0.9"/><rect x="34.5" y="549" width="1.9" height="10" rx="0.9"/><rect x="37.2" y="537" width="1.9" height="10" rx="0.9"/><rect x="37.2" y="561" width="1.9" height="10" rx="0.9"/><rect x="40.0" y="525" width="1.9" height="10" rx="0.9"/><rect x="40.0" y="549" width="1.9" height="10" rx="0.9"/><rect x="42.8" y="537" width="1.9" height="10" rx="0.9"/><rect x="42.8" y="561" width="1.9" height="10" rx="0.9"/><rect x="45.5" y="525" width="1.9" height="10" rx="0.9"/><rect x="45.5" y="549" width="1.9" height="10" rx="0.9"/><rect x="48.2" y="537" width="1.9" height="10" rx="0.9"/><rect x="48.2" y="561" width="1.9" height="10" rx="0.9"/><rect x="51.0" y="525" width="1.9" height="10" rx="0.9"/><rect x="51.0" y="549" width="1.9" height="10" rx="0.9"/><rect x="53.8" y="537" width="1.9" height="10" rx="0.9"/><rect x="53.8" y="561" width="1.9" height="10" rx="0.9"/><rect x="56.5" y="525" width="1.9" height="10" rx="0.9"/><rect x="56.5" y="549" width="1.9" height="10" rx="0.9"/><rect x="59.2" y="537" width="1.9" height="10" rx="0.9"/><rect x="59.2" y="561" width="1.9" height="10" rx="0.9"/><rect x="62.0" y="525" width="1.9" height="10" rx="0.9"/><rect x="62.0" y="549" width="1.9" height="10" rx="0.9"/><rect x="64.8" y="537" width="1.9" height="10" rx="0.9"/><rect x="64.8" y="561" width="1.9" height="10" rx="0.9"/><rect x="67.5" y="525" width="1.9" height="10" rx="0.9"/><rect x="67.5" y="549" width="1.9" height="10" rx="0.9"/><rect x="70.2" y="537" width="1.9" height="10" rx="0.9"/><rect x="70.2" y="561" width="1.9" height="10" rx="0.9"/><rect x="73.0" y="525" width="1.9" height="10" rx="0.9"/><rect x="73.0" y="549" width="1.9" height="10" rx="0.9"/><rect x="75.8" y="537" width="1.9" height="10" rx="0.9"/><rect x="75.8" y="561" width="1.9" height="10" rx="0.9"/><rect x="78.5" y="525" width="1.9" height="10" rx="0.9"/><rect x="78.5" y="549" width="1.9" height="10" rx="0.9"/><rect x="81.2" y="537" width="1.9" height="10" rx="0.9"/><rect x="81.2" y="561" width="1.9" height="10" rx="0.9"/><rect x="84.0" y="525" width="1.9" height="10" rx="0.9"/><rect x="84.0" y="549" width="1.9" height="10" rx="0.9"/><rect x="86.8" y="537" width="1.9" height="10" rx="0.9"/><rect x="86.8" y="561" width="1.9" height="10" rx="0.9"/><rect x="89.5" y="525" width="1.9" height="10" rx="0.9"/><rect x="89.5" y="549" width="1.9" height="10" rx="0.9"/><rect x="92.2" y="537" width="1.9" height="10" rx="0.9"/><rect x="92.2" y="561" width="1.9" height="10" rx="0.9"/><rect x="95.0" y="525" width="1.9" height="10" rx="0.9"/><rect x="95.0" y="549" width="1.9" height="10" rx="0.9"/><rect x="97.8" y="537" width="1.9" height="10" rx="0.9"/><rect x="97.8" y="561" width="1.9" height="10" rx="0.9"/><rect x="100.5" y="525" width="1.9" height="10" rx="0.9"/><rect x="100.5" y="549" width="1.9" height="10" rx="0.9"/><rect x="103.2" y="537" width="1.9" height="10" rx="0.9"/><rect x="103.2" y="561" width="1.9" height="10" rx="0.9"/><rect x="106.0" y="525" width="1.9" height="10" rx="0.9"/><rect x="106.0" y="549" width="1.9" height="10" rx="0.9"/><rect x="108.8" y="537" width="1.9" height="10" rx="0.9"/><rect x="108.8" y="561" width="1.9" height="10" rx="0.9"/><rect x="111.5" y="525" width="1.9" height="10" rx="0.9"/><rect x="111.5" y="549" width="1.9" height="10" rx="0.9"/><rect x="114.2" y="537" width="1.9" height="10" rx="0.9"/><rect x="114.2" y="561" width="1.9" height="10" rx="0.9"/><rect x="117.0" y="525" width="1.9" height="10" rx="0.9"/><rect x="117.0" y="549" width="1.9" height="10" rx="0.9"/><rect x="119.8" y="537" width="1.9" height="10" rx="0.9"/><rect x="119.8" y="561" width="1.9" height="10" rx="0.9"/><rect x="122.5" y="525" width="1.9" height="10" rx="0.9"/><rect x="122.5" y="549" width="1.9" height="10" rx="0.9"/><rect x="125.2" y="537" width="1.9" height="10" rx="0.9"/><rect x="125.2" y="561" width="1.9" height="10" rx="0.9"/><rect x="128.0" y="525" width="1.9" height="10" rx="0.9"/><rect x="128.0" y="549" width="1.9" height="10" rx="0.9"/><rect x="130.8" y="537" width="1.9" height="10" rx="0.9"/><rect x="130.8" y="561" width="1.9" height="10" rx="0.9"/><rect x="133.5" y="525" width="1.9" height="10" rx="0.9"/><rect x="133.5" y="549" width="1.9" height="10" rx="0.9"/><rect x="136.2" y="537" width="1.9" height="10" rx="0.9"/><rect x="136.2" y="561" width="1.9" height="10" rx="0.9"/><rect x="139.0" y="525" width="1.9" height="10" rx="0.9"/><rect x="139.0" y="549" width="1.9" height="10" rx="0.9"/><rect x="141.8" y="537" width="1.9" height="10" rx="0.9"/><rect x="141.8" y="561" width="1.9" height="10" rx="0.9"/><rect x="144.5" y="525" width="1.9" height="10" rx="0.9"/><rect x="144.5" y="549" width="1.9" height="10" rx="0.9"/><rect x="147.2" y="537" width="1.9" height="10" rx="0.9"/><rect x="147.2" y="561" width="1.9" height="10" rx="0.9"/><rect x="150.0" y="525" width="1.9" height="10" rx="0.9"/><rect x="150.0" y="549" width="1.9" height="10" rx="0.9"/><rect x="152.8" y="537" width="1.9" height="10" rx="0.9"/><rect x="152.8" y="561" width="1.9" height="10" rx="0.9"/><rect x="155.5" y="525" width="1.9" height="10" rx="0.9"/><rect x="155.5" y="549" width="1.9" height="10" rx="0.9"/><rect x="158.2" y="537" width="1.9" height="10" rx="0.9"/><rect x="158.2" y="561" width="1.9" height="10" rx="0.9"/><rect x="161.0" y="525" width="1.9" height="10" rx="0.9"/><rect x="161.0" y="549" width="1.9" height="10" rx="0.9"/><rect x="163.8" y="537" width="1.9" height="10" rx="0.9"/><rect x="163.8" y="561" width="1.9" height="10" rx="0.9"/><rect x="166.5" y="525" width="1.9" height="10" rx="0.9"/><rect x="166.5" y="549" width="1.9" height="10" rx="0.9"/><rect x="169.2" y="537" width="1.9" height="10" rx="0.9"/><rect x="169.2" y="561" width="1.9" height="10" rx="0.9"/><rect x="172.0" y="525" width="1.9" height="10" rx="0.9"/><rect x="172.0" y="549" width="1.9" height="10" rx="0.9"/><rect x="174.8" y="537" width="1.9" height="10" rx="0.9"/><rect x="174.8" y="561" width="1.9" height="10" rx="0.9"/><rect x="177.5" y="525" width="1.9" height="10" rx="0.9"/><rect x="177.5" y="549" width="1.9" height="10" rx="0.9"/><rect x="180.2" y="537" width="1.9" height="10" rx="0.9"/><rect x="180.2" y="561" width="1.9" height="10" rx="0.9"/><rect x="183.0" y="525" width="1.9" height="10" rx="0.9"/><rect x="183.0" y="549" width="1.9" height="10" rx="0.9"/><rect x="185.8" y="537" width="1.9" height="10" rx="0.9"/><rect x="185.8" y="561" width="1.9" height="10" rx="0.9"/><rect x="188.5" y="525" width="1.9" height="10" rx="0.9"/><rect x="188.5" y="549" width="1.9" height="10" rx="0.9"/><rect x="191.2" y="537" width="1.9" height="10" rx="0.9"/><rect x="191.2" y="561" width="1.9" height="10" rx="0.9"/><rect x="194.0" y="525" width="1.9" height="10" rx="0.9"/><rect x="194.0" y="549" width="1.9" height="10" rx="0.9"/><rect x="196.8" y="537" width="1.9" height="10" rx="0.9"/><rect x="196.8" y="561" width="1.9" height="10" rx="0.9"/><rect x="199.5" y="525" width="1.9" height="10" rx="0.9"/><rect x="199.5" y="549" width="1.9" height="10" rx="0.9"/><rect x="202.2" y="537" width="1.9" height="10" rx="0.9"/><rect x="202.2" y="561" width="1.9" height="10" rx="0.9"/><rect x="205.0" y="525" width="1.9" height="10" rx="0.9"/><rect x="205.0" y="549" width="1.9" height="10" rx="0.9"/><rect x="207.8" y="537" width="1.9" height="10" rx="0.9"/><rect x="207.8" y="561" width="1.9" height="10" rx="0.9"/><rect x="210.5" y="525" width="1.9" height="10" rx="0.9"/><rect x="210.5" y="549" width="1.9" height="10" rx="0.9"/><rect x="213.2" y="537" width="1.9" height="10" rx="0.9"/><rect x="213.2" y="561" width="1.9" height="10" rx="0.9"/><rect x="216.0" y="525" width="1.9" height="10" rx="0.9"/><rect x="216.0" y="549" width="1.9" height="10" rx="0.9"/><rect x="218.8" y="537" width="1.9" height="10" rx="0.9"/><rect x="218.8" y="561" width="1.9" height="10" rx="0.9"/><rect x="221.5" y="525" width="1.9" height="10" rx="0.9"/><rect x="221.5" y="549" width="1.9" height="10" rx="0.9"/><rect x="224.2" y="537" width="1.9" height="10" rx="0.9"/><rect x="224.2" y="561" width="1.9" height="10" rx="0.9"/></g>
<g fill="#222"><rect x="27" y="548" width="22" height="25"/><rect x="94" y="538" width="60" height="17"/><rect x="94" y="555" width="50" height="18"/><rect x="196" y="538" width="30" height="35"/></g>
<circle cx="45.6" cy="535.1" r="10.2" fill="#3e3838" stroke="#4a4444" stroke-width="0.9"/>
<g stroke="#080808" stroke-width="3.06" stroke-linecap="round"><line x1="45.60" y1="535.10" x2="53.17" y2="537.56"/><line x1="45.60" y1="535.10" x2="50.28" y2="541.54"/><line x1="45.60" y1="535.10" x2="45.60" y2="543.06"/><line x1="45.60" y1="535.10" x2="40.92" y2="541.54"/><line x1="45.60" y1="535.10" x2="38.03" y2="537.56"/><line x1="45.60" y1="535.10" x2="38.03" y2="532.64"/><line x1="45.60" y1="535.10" x2="40.92" y2="528.66"/><line x1="45.60" y1="535.10" x2="45.60" y2="527.14"/><line x1="45.60" y1="535.10" x2="50.28" y2="528.66"/><line x1="45.60" y1="535.10" x2="53.17" y2="532.64"/></g>
<circle cx="45.6" cy="535.1" r="3.26" fill="#0a0a0a"/>
<circle cx="71" cy="535.1" r="10.2" fill="#3e3838" stroke="#4a4444" stroke-width="0.9"/>
<g stroke="#080808" stroke-width="3.06" stroke-linecap="round"><line x1="71.00" y1="535.10" x2="78.57" y2="537.56"/><line x1="71.00" y1="535.10" x2="75.68" y2="541.54"/><line x1="71.00" y1="535.10" x2="71.00" y2="543.06"/><line x1="71.00" y1="535.10" x2="66.32" y2="541.54"/><line x1="71.00" y1="535.10" x2="63.43" y2="537.56"/><line x1="71.00" y1="535.10" x2="63.43" y2="532.64"/><line x1="71.00" y1="535.10" x2="66.32" y2="528.66"/><line x1="71.00" y1="535.10" x2="71.00" y2="527.14"/><line x1="71.00" y1="535.10" x2="75.68" y2="528.66"/><line x1="71.00" y1="535.10" x2="78.57" y2="532.64"/></g>
<circle cx="71" cy="535.1" r="3.26" fill="#0a0a0a"/>
<circle cx="161.8" cy="535.3" r="10.8" fill="#3e3838" stroke="#4a4444" stroke-width="0.9"/>
<g stroke="#080808" stroke-width="3.24" stroke-linecap="round"><line x1="161.80" y1="535.30" x2="169.81" y2="537.90"/><line x1="161.80" y1="535.30" x2="166.75" y2="542.12"/><line x1="161.80" y1="535.30" x2="161.80" y2="543.72"/><line x1="161.80" y1="535.30" x2="156.85" y2="542.12"/><line x1="161.80" y1="535.30" x2="153.79" y2="537.90"/><line x1="161.80" y1="535.30" x2="153.79" y2="532.70"/><line x1="161.80" y1="535.30" x2="156.85" y2="528.48"/><line x1="161.80" y1="535.30" x2="161.80" y2="526.88"/><line x1="161.80" y1="535.30" x2="166.75" y2="528.48"/><line x1="161.80" y1="535.30" x2="169.81" y2="532.70"/></g>
<circle cx="161.8" cy="535.3" r="3.46" fill="#0a0a0a"/>
<circle cx="155" cy="560.7" r="8.2" fill="#3e3838" stroke="#4a4444" stroke-width="0.9"/>
<g stroke="#080808" stroke-width="2.46" stroke-linecap="round"><line x1="155.00" y1="560.70" x2="161.01" y2="562.89"/><line x1="155.00" y1="560.70" x2="158.20" y2="566.24"/><line x1="155.00" y1="560.70" x2="153.89" y2="567.00"/><line x1="155.00" y1="560.70" x2="150.10" y2="564.81"/><line x1="155.00" y1="560.70" x2="148.60" y2="560.70"/><line x1="155.00" y1="560.70" x2="150.10" y2="556.59"/><line x1="155.00" y1="560.70" x2="153.89" y2="554.40"/><line x1="155.00" y1="560.70" x2="158.20" y2="555.16"/><line x1="155.00" y1="560.70" x2="161.01" y2="558.51"/></g>
<circle cx="155" cy="560.7" r="2.62" fill="#0a0a0a"/>
<circle cx="189.1" cy="560.7" r="8.2" fill="#3e3838" stroke="#4a4444" stroke-width="0.9"/>
<g stroke="#080808" stroke-width="2.46" stroke-linecap="round"><line x1="189.10" y1="560.70" x2="195.11" y2="562.89"/><line x1="189.10" y1="560.70" x2="192.30" y2="566.24"/><line x1="189.10" y1="560.70" x2="187.99" y2="567.00"/><line x1="189.10" y1="560.70" x2="184.20" y2="564.81"/><line x1="189.10" y1="560.70" x2="182.70" y2="560.70"/><line x1="189.10" y1="560.70" x2="184.20" y2="556.59"/><line x1="189.10" y1="560.70" x2="187.99" y2="554.40"/><line x1="189.10" y1="560.70" x2="192.30" y2="555.16"/><line x1="189.10" y1="560.70" x2="195.11" y2="558.51"/></g>
<circle cx="189.1" cy="560.7" r="2.62" fill="#0a0a0a"/>
<rect x="102.1" y="542.1" width="10.9" height="8.9" fill="#f4f4f4"/><rect x="103.5" y="543.5" width="8.1" height="6.1" fill="#1a1a1a"/>
<rect x="116.2" y="542.1" width="7.7" height="8.9" fill="#f4f4f4"/><rect x="117.6" y="544.5" width="4.9" height="4" fill="#1a1a1a"/>
<rect x="135.8" y="538.4" width="12.3" height="13" fill="#6cd24a"/><g fill="#2a6a22"><circle cx="139" cy="542" r="1.2"/><circle cx="144.5" cy="542" r="1.2"/><circle cx="139" cy="547.5" r="1.2"/><circle cx="144.5" cy="547.5" r="1.2"/></g>
<rect x="136" y="552.5" width="12" height="1.8" fill="#888"/>
<circle cx="40.4" cy="558.5" r="3.3" fill="#1a1a1a" stroke="#ddd" stroke-width="0.9"/>
<rect x="82" y="562.3" width="10.5" height="6.3" rx="1" fill="#d8262e"/>
<rect x="102.4" y="560.5" width="12" height="7.4" rx="2.2" fill="none" stroke="#999" stroke-width="0.8"/><rect x="127" y="560.5" width="12" height="7.4" rx="2.2" fill="none" stroke="#999" stroke-width="0.8"/>
<rect x="207.9" y="542.2" width="6.1" height="11.5" fill="#e06068"/>
<g fill="#888"><rect x="207" y="557" width="8" height="1.2"/><rect x="96" y="553" width="6" height="1"/><rect x="118" y="553" width="5" height="1"/><rect x="38" y="547" width="9" height="0.9"/><rect x="62" y="547" width="14" height="0.9"/><rect x="159" y="549" width="5" height="1"/></g>
<polyline points="45.3,469 45.3,535" fill="none" stroke="#b8222b" stroke-width="2" stroke-linejoin="miter"/>
<polyline points="70.7,469 70.7,535" fill="none" stroke="#b8222b" stroke-width="2" stroke-linejoin="miter"/>
<polyline points="104.7,469 104.7,547" fill="none" stroke="#b8222b" stroke-width="2" stroke-linejoin="miter"/>
<polyline points="121.1,469 121.1,546" fill="none" stroke="#b8222b" stroke-width="2" stroke-linejoin="miter"/>
<polyline points="141.2,469 141.2,540" fill="none" stroke="#b8222b" stroke-width="2" stroke-linejoin="miter"/>
<polyline points="162.3,469 162.3,535" fill="none" stroke="#b8222b" stroke-width="2" stroke-linejoin="miter"/>
<polyline points="210.8,469 210.8,546" fill="none" stroke="#b8222b" stroke-width="2" stroke-linejoin="miter"/>
<polyline points="40,583 40,558.5" fill="none" stroke="#b8222b" stroke-width="2" stroke-linejoin="miter"/>
<polyline points="86.7,583 86.7,566" fill="none" stroke="#b8222b" stroke-width="2" stroke-linejoin="miter"/>
<polyline points="121.1,583 121.1,575 108.2,575 108.2,564" fill="none" stroke="#b8222b" stroke-width="2" stroke-linejoin="miter"/>
<polyline points="121.1,575 133.8,575 133.8,564" fill="none" stroke="#b8222b" stroke-width="2" stroke-linejoin="miter"/>
<polyline points="171.9,583 171.9,574.5 154.7,574.5 154.7,560" fill="none" stroke="#b8222b" stroke-width="2" stroke-linejoin="miter"/>
<polyline points="171.9,574.5 189.5,574.5 189.5,560" fill="none" stroke="#b8222b" stroke-width="2" stroke-linejoin="miter"/>
<circle cx="45.3" cy="461.4" r="7.6" fill="#fff" stroke="#262626" stroke-width="1.15"/>
<text x="45.3" y="464.65" font-size="11" text-anchor="middle" fill="#1e1e1e" stroke="#1e1e1e" stroke-width="0.2">6</text>
<circle cx="70.7" cy="461.4" r="7.6" fill="#fff" stroke="#262626" stroke-width="1.15"/>
<text x="70.7" y="464.65" font-size="11" text-anchor="middle" fill="#1e1e1e" stroke="#1e1e1e" stroke-width="0.2">7</text>
<circle cx="104.7" cy="461.4" r="7.6" fill="#fff" stroke="#262626" stroke-width="1.15"/>
<text x="105.0" y="464.65" font-size="11" text-anchor="middle" fill="#1e1e1e" stroke="#1e1e1e" stroke-width="0.2" letter-spacing="-0.6">15</text>
<circle cx="121.1" cy="461.4" r="7.6" fill="#fff" stroke="#262626" stroke-width="1.15"/>
<text x="121.39999999999999" y="464.65" font-size="11" text-anchor="middle" fill="#1e1e1e" stroke="#1e1e1e" stroke-width="0.2" letter-spacing="-0.6">14</text>
<circle cx="141.2" cy="461.4" r="7.6" fill="#fff" stroke="#262626" stroke-width="1.15"/>
<text x="141.5" y="464.65" font-size="11" text-anchor="middle" fill="#1e1e1e" stroke="#1e1e1e" stroke-width="0.2" letter-spacing="-0.6">13</text>
<circle cx="162.3" cy="461.4" r="7.6" fill="#fff" stroke="#262626" stroke-width="1.15"/>
<text x="162.3" y="464.65" font-size="11" text-anchor="middle" fill="#1e1e1e" stroke="#1e1e1e" stroke-width="0.2">9</text>
<circle cx="210.8" cy="461.4" r="7.6" fill="#fff" stroke="#262626" stroke-width="1.15"/>
<text x="211.10000000000002" y="464.65" font-size="11" text-anchor="middle" fill="#1e1e1e" stroke="#1e1e1e" stroke-width="0.2" letter-spacing="-0.6">10</text>
<circle cx="40" cy="590.4" r="7.6" fill="#fff" stroke="#262626" stroke-width="1.15"/>
<text x="40.3" y="593.65" font-size="11" text-anchor="middle" fill="#1e1e1e" stroke="#1e1e1e" stroke-width="0.2" letter-spacing="-0.6">12</text>
<circle cx="86.7" cy="590.4" r="7.6" fill="#fff" stroke="#262626" stroke-width="1.15"/>
<text x="87.0" y="593.65" font-size="11" text-anchor="middle" fill="#1e1e1e" stroke="#1e1e1e" stroke-width="0.2" letter-spacing="-0.6">17</text>
<circle cx="121.1" cy="590.4" r="7.6" fill="#fff" stroke="#262626" stroke-width="1.15"/>
<text x="121.39999999999999" y="593.65" font-size="11" text-anchor="middle" fill="#1e1e1e" stroke="#1e1e1e" stroke-width="0.2" letter-spacing="-0.6">18</text>
<circle cx="171.9" cy="590.4" r="7.6" fill="#fff" stroke="#262626" stroke-width="1.15"/>
<text x="172.20000000000002" y="593.65" font-size="11" text-anchor="middle" fill="#1e1e1e" stroke="#1e1e1e" stroke-width="0.2" letter-spacing="-0.6">11</text>
<rect x="265.2" y="490.9" width="292.8" height="6" fill="url(#sideSilver)"/>
<path d="M265.2 496.3 H526 Q551.7 496.3 551.7 522 V527 H558 V570.2 H265.2 Z" fill="#1f1f1f"/>
<path d="M526 496.3 Q551.7 496.3 551.7 522 V527 H558 V490.9 H526 Z" fill="url(#sideSilver2)"/>
<path d="M512.2 498 H526 Q551 498 551 522 V570 H512.2 Z" fill="url(#dots2)"/>
<rect x="273.3" y="503.8" width="92.4" height="61" fill="#1a1a1a"/>
<path d="M273.3 503.8 H365.7 L362 507 H277 Z" fill="#888"/>
<g fill="#060606"><rect x="276.5" y="508.0" width="12.5" height="2.6" rx="1.2"/><rect x="293.2" y="508.0" width="12.5" height="2.6" rx="1.2"/><rect x="309.9" y="508.0" width="12.5" height="2.6" rx="1.2"/><rect x="326.6" y="508.0" width="12.5" height="2.6" rx="1.2"/><rect x="343.3" y="508.0" width="12.5" height="2.6" rx="1.2"/><rect x="280.7" y="512.3" width="12.5" height="2.6" rx="1.2"/><rect x="297.4" y="512.3" width="12.5" height="2.6" rx="1.2"/><rect x="314.1" y="512.3" width="12.5" height="2.6" rx="1.2"/><rect x="330.8" y="512.3" width="12.5" height="2.6" rx="1.2"/><rect x="347.5" y="512.3" width="12.5" height="2.6" rx="1.2"/><rect x="276.5" y="516.6" width="12.5" height="2.6" rx="1.2"/><rect x="293.2" y="516.6" width="12.5" height="2.6" rx="1.2"/><rect x="309.9" y="516.6" width="12.5" height="2.6" rx="1.2"/><rect x="326.6" y="516.6" width="12.5" height="2.6" rx="1.2"/><rect x="343.3" y="516.6" width="12.5" height="2.6" rx="1.2"/><rect x="280.7" y="520.9" width="12.5" height="2.6" rx="1.2"/><rect x="297.4" y="520.9" width="12.5" height="2.6" rx="1.2"/><rect x="314.1" y="520.9" width="12.5" height="2.6" rx="1.2"/><rect x="330.8" y="520.9" width="12.5" height="2.6" rx="1.2"/><rect x="347.5" y="520.9" width="12.5" height="2.6" rx="1.2"/><rect x="276.5" y="525.2" width="12.5" height="2.6" rx="1.2"/><rect x="293.2" y="525.2" width="12.5" height="2.6" rx="1.2"/><rect x="309.9" y="525.2" width="12.5" height="2.6" rx="1.2"/><rect x="326.6" y="525.2" width="12.5" height="2.6" rx="1.2"/><rect x="343.3" y="525.2" width="12.5" height="2.6" rx="1.2"/><rect x="280.7" y="529.5" width="12.5" height="2.6" rx="1.2"/><rect x="297.4" y="529.5" width="12.5" height="2.6" rx="1.2"/><rect x="314.1" y="529.5" width="12.5" height="2.6" rx="1.2"/><rect x="330.8" y="529.5" width="12.5" height="2.6" rx="1.2"/><rect x="347.5" y="529.5" width="12.5" height="2.6" rx="1.2"/><rect x="276.5" y="533.8" width="12.5" height="2.6" rx="1.2"/><rect x="293.2" y="533.8" width="12.5" height="2.6" rx="1.2"/><rect x="309.9" y="533.8" width="12.5" height="2.6" rx="1.2"/><rect x="326.6" y="533.8" width="12.5" height="2.6" rx="1.2"/><rect x="343.3" y="533.8" width="12.5" height="2.6" rx="1.2"/><rect x="280.7" y="538.1" width="12.5" height="2.6" rx="1.2"/><rect x="297.4" y="538.1" width="12.5" height="2.6" rx="1.2"/><rect x="314.1" y="538.1" width="12.5" height="2.6" rx="1.2"/><rect x="330.8" y="538.1" width="12.5" height="2.6" rx="1.2"/><rect x="347.5" y="538.1" width="12.5" height="2.6" rx="1.2"/><rect x="276.5" y="542.4" width="12.5" height="2.6" rx="1.2"/><rect x="293.2" y="542.4" width="12.5" height="2.6" rx="1.2"/><rect x="309.9" y="542.4" width="12.5" height="2.6" rx="1.2"/><rect x="326.6" y="542.4" width="12.5" height="2.6" rx="1.2"/><rect x="343.3" y="542.4" width="12.5" height="2.6" rx="1.2"/><rect x="280.7" y="546.7" width="12.5" height="2.6" rx="1.2"/><rect x="297.4" y="546.7" width="12.5" height="2.6" rx="1.2"/><rect x="314.1" y="546.7" width="12.5" height="2.6" rx="1.2"/><rect x="330.8" y="546.7" width="12.5" height="2.6" rx="1.2"/><rect x="347.5" y="546.7" width="12.5" height="2.6" rx="1.2"/><rect x="276.5" y="551.0" width="12.5" height="2.6" rx="1.2"/><rect x="293.2" y="551.0" width="12.5" height="2.6" rx="1.2"/><rect x="309.9" y="551.0" width="12.5" height="2.6" rx="1.2"/><rect x="326.6" y="551.0" width="12.5" height="2.6" rx="1.2"/><rect x="343.3" y="551.0" width="12.5" height="2.6" rx="1.2"/><rect x="280.7" y="555.3" width="12.5" height="2.6" rx="1.2"/><rect x="297.4" y="555.3" width="12.5" height="2.6" rx="1.2"/><rect x="314.1" y="555.3" width="12.5" height="2.6" rx="1.2"/><rect x="330.8" y="555.3" width="12.5" height="2.6" rx="1.2"/><rect x="347.5" y="555.3" width="12.5" height="2.6" rx="1.2"/><rect x="276.5" y="559.6" width="12.5" height="2.6" rx="1.2"/><rect x="293.2" y="559.6" width="12.5" height="2.6" rx="1.2"/><rect x="309.9" y="559.6" width="12.5" height="2.6" rx="1.2"/><rect x="326.6" y="559.6" width="12.5" height="2.6" rx="1.2"/><rect x="343.3" y="559.6" width="12.5" height="2.6" rx="1.2"/></g>
<rect x="471" y="486.8" width="29.6" height="7.2" rx="2.2" fill="#2a2a2a"/>
<line x1="449.8" y1="486.3" x2="500" y2="486.3" stroke="#333" stroke-width="0.8"/>
<circle cx="267" cy="535" r="1.2" fill="#ddd"/>
<path d="M303 570.2 Q306 574 309 574 Q312 574 315 570.2 Z" fill="#222"/><path d="M525 570.2 Q528 573.5 531 573.5 Q534 573.5 537 570.2 Z" fill="#222"/>
<polyline points="254.5,573.4 265.2,573.4 265.2,560" fill="none" stroke="#333" stroke-width="0.9"/>
<rect x="558" y="545" width="3" height="6" fill="#c04050"/><rect x="558" y="555" width="4" height="4" fill="#555"/>
<circle cx="431.5" cy="505" r="0.9" fill="#000"/><circle cx="461.5" cy="505" r="0.9" fill="#000"/>
<rect x="441.4" y="503.4" width="10.7" height="4" rx="1" fill="#0c0c0c"/><rect x="442.5" y="503.9" width="8.5" height="1.2" fill="#e8e8e8"/><rect x="443" y="510" width="6" height="1" fill="#666"/>
<polyline points="445.5,469 445.5,504" fill="none" stroke="#b8222b" stroke-width="2" stroke-linejoin="miter"/>
<circle cx="445.5" cy="461.1" r="7.6" fill="#fff" stroke="#262626" stroke-width="1.15"/>
<text x="445.8" y="464.35" font-size="11" text-anchor="middle" fill="#1e1e1e" stroke="#1e1e1e" stroke-width="0.2" letter-spacing="-0.6">16</text>
<rect x="587" y="73" width="459.4" height="447.2" rx="23" fill="none" stroke="#b0b0b0" stroke-width="2" stroke-dasharray="8 7"/>
<text x="665.3" y="97.3" font-size="11.6" fill="#222">SOLAR PANELS</text>
<rect x="600.2" y="104.9" width="29.8" height="59.6" fill="#2a2956"/>
<path d="M600.2 104.9 H606.7 L610.2 164.5 H600.2 Z" fill="#4a4a7a" opacity="0.55"/>
<path d="M606.6 104.9 H614.3000000000001 L619.2 164.5 H610.0 Z" fill="url(#panelStreak)" opacity="0.9"/>
<path d="M605.2 104.9 V164.5 M610.1 104.9 V164.5 M615.1 104.9 V164.5 M620.1 104.9 V164.5 M625.0 104.9 V164.5 M600.2 110.9 H630.0 M600.2 116.8 H630.0 M600.2 122.8 H630.0 M600.2 128.7 H630.0 M600.2 134.7 H630.0 M600.2 140.7 H630.0 M600.2 146.6 H630.0 M600.2 152.6 H630.0 M600.2 158.5 H630.0" stroke="#7a7aa8" stroke-width="0.55" opacity="0.5"/>
<rect x="646.5" y="104.9" width="29.8" height="59.6" fill="#2a2956"/>
<path d="M646.5 104.9 H653.0 L656.5 164.5 H646.5 Z" fill="#4a4a7a" opacity="0.55"/>
<path d="M652.9 104.9 H660.6 L665.5 164.5 H656.3 Z" fill="url(#panelStreak)" opacity="0.9"/>
<path d="M651.5 104.9 V164.5 M656.4 104.9 V164.5 M661.4 104.9 V164.5 M666.4 104.9 V164.5 M671.3 104.9 V164.5 M646.5 110.9 H676.3 M646.5 116.8 H676.3 M646.5 122.8 H676.3 M646.5 128.7 H676.3 M646.5 134.7 H676.3 M646.5 140.7 H676.3 M646.5 146.6 H676.3 M646.5 152.6 H676.3 M646.5 158.5 H676.3" stroke="#7a7aa8" stroke-width="0.55" opacity="0.5"/>
<rect x="735.4" y="104.9" width="29.8" height="59.6" fill="#2a2956"/>
<path d="M735.4 104.9 H741.9 L745.4 164.5 H735.4 Z" fill="#4a4a7a" opacity="0.55"/>
<path d="M741.8 104.9 H749.5 L754.4 164.5 H745.1999999999999 Z" fill="url(#panelStreak)" opacity="0.9"/>
<path d="M740.4 104.9 V164.5 M745.3 104.9 V164.5 M750.3 104.9 V164.5 M755.3 104.9 V164.5 M760.2 104.9 V164.5 M735.4 110.9 H765.1999999999999 M735.4 116.8 H765.1999999999999 M735.4 122.8 H765.1999999999999 M735.4 128.7 H765.1999999999999 M735.4 134.7 H765.1999999999999 M735.4 140.7 H765.1999999999999 M735.4 146.6 H765.1999999999999 M735.4 152.6 H765.1999999999999 M735.4 158.5 H765.1999999999999" stroke="#7a7aa8" stroke-width="0.55" opacity="0.5"/>
<rect x="781.7" y="104.9" width="29.8" height="59.6" fill="#2a2956"/>
<path d="M781.7 104.9 H788.2 L791.7 164.5 H781.7 Z" fill="#4a4a7a" opacity="0.55"/>
<path d="M788.1 104.9 H795.8000000000001 L800.7 164.5 H791.5 Z" fill="url(#panelStreak)" opacity="0.9"/>
<path d="M786.7 104.9 V164.5 M791.6 104.9 V164.5 M796.6 104.9 V164.5 M801.6 104.9 V164.5 M806.5 104.9 V164.5 M781.7 110.9 H811.5 M781.7 116.8 H811.5 M781.7 122.8 H811.5 M781.7 128.7 H811.5 M781.7 134.7 H811.5 M781.7 140.7 H811.5 M781.7 146.6 H811.5 M781.7 152.6 H811.5 M781.7 158.5 H811.5" stroke="#7a7aa8" stroke-width="0.55" opacity="0.5"/>
<g fill="#111"><circle cx="691.0" cy="138.6" r="1.2"/><circle cx="696.9" cy="138.6" r="1.2"/><circle cx="702.8" cy="138.6" r="1.2"/><circle cx="708.7" cy="138.6" r="1.2"/><circle cx="714.6" cy="138.6" r="1.2"/><circle cx="720.5" cy="138.6" r="1.2"/></g>
<path d="M613.5 164.5 V187.5 M661.5 164.5 V187.5 M750.5 164.5 V187.5 M797.5 164.5 V187.5 M613 187.5 H798" fill="none" stroke="#1a1a1a" stroke-width="1.2"/>
<path d="M698.5 187.5 V286.5 H740.3" fill="none" stroke="#1a1a1a" stroke-width="1.2"/>
<path d="M698.5 229 L695.3 223.5 L701.7 223.5 Z" fill="#1a1a1a"/>
<linearGradient id="invSide" x1="0" y1="0" x2="1" y2="0"><stop offset="0" stop-color="#0e0e0e"/><stop offset="1" stop-color="#2e2e2e"/></linearGradient>
<linearGradient id="invFront" x1="0" y1="0" x2="1" y2="1"><stop offset="0" stop-color="#ffffff"/><stop offset="0.6" stop-color="#f6f6f6"/><stop offset="1" stop-color="#e8e8e8"/></linearGradient>
<path d="M740.3 208.2 L748 208.6 L748 349.5 L740.3 351.6 Z" fill="url(#invSide)"/>
<path d="M748 208.6 L835.8 213.3 L835.8 345.8 L748 349.5 Z" fill="url(#invFront)" stroke="#e0e0e0" stroke-width="0.4"/>
<path d="M748 310.7 H763.6 L772.8 300 Q773.5 298.3 776 298.2 L835.8 297.9 V312.8 H823 L815.5 322 Q814.5 323 812.5 323 L748 325 Z" fill="#1c1c1c"/>
<rect x="773.3" y="302" width="41.5" height="20" rx="4.5" fill="#0a0a0a"/>
<rect x="777.4" y="306.1" width="16.4" height="11.3" rx="0.8" fill="#2a2a2a"/>
<g fill="#666"><circle cx="805.5" cy="307" r="0.9"/><circle cx="803.5" cy="311" r="0.9"/><circle cx="811.5" cy="310.5" r="0.9"/><circle cx="807" cy="315.5" r="0.9"/></g>
<circle cx="798.9" cy="307.1" r="0.9" fill="#4a4"/><circle cx="798.9" cy="311.5" r="0.9" fill="#c44"/><circle cx="798.9" cy="316" r="0.9" fill="#a33"/>
<text x="760.9" y="225" font-size="8.6" font-weight="bold" fill="#d81a2a" stroke="#d81a2a" stroke-width="0.45" textLength="21.6" lengthAdjust="spacingAndGlyphs">MUST</text>
<g fill="#2a2a2a"><rect x="784.1" y="289.2" width="2.3" height="2.1"/><rect x="786.9" y="289.2" width="2.3" height="2.1"/><rect x="784.1" y="291.8" width="2.3" height="2.1"/><rect x="786.9" y="291.8" width="2.3" height="2.1"/></g>
<text x="790.7" y="294" font-size="7" font-weight="bold" fill="#2a2a2a" textLength="39.5" lengthAdjust="spacingAndGlyphs">Solar Inverter</text>
<ellipse cx="824.5" cy="325" rx="4.8" ry="3.4" fill="none" stroke="#aaa" stroke-width="0.6"/><text x="820.8" y="326.6" font-size="4.2" fill="#555" font-style="italic" font-weight="bold">pro</text>
<rect x="741.5" y="258" width="1.6" height="6" fill="#6c6"/>
<path d="M748 335.3 L835.8 333.5 M748 342 L835.8 340" stroke="#e2e2e2" stroke-width="0.6"/>
<path d="M748 349.3 H768 V351.6 H748 Z" fill="#1a1a1a"/><path d="M826 345.3 H834 V347 H826 Z" fill="#1a1a1a"/>
<text x="755.2" y="366.7" font-size="11.7" fill="#222">INVERTER</text>
<path d="M835.8 288.5 H966" fill="none" stroke="#1a1a1a" stroke-width="1.2"/>
<path d="M973.3 288.5 L967.5 285.3 L967.5 291.7 Z" fill="#1a1a1a"/>
<text x="851.8" y="285.2" font-size="11.7" fill="#222">AC OUTPUT</text>
<path d="M944.5 167.9 V405 M944.5 168.5 H966 M944.5 220.5 H966 M944.5 356.5 H966 M944.5 404.5 H966" fill="none" stroke="#1a1a1a" stroke-width="1.2"/>
<path d="M973.3 168.5 L967.5 165.3 L967.5 171.7 Z" fill="#1a1a1a"/>
<path d="M973.3 220.5 L967.5 217.3 L967.5 223.7 Z" fill="#1a1a1a"/>
<path d="M973.3 356.5 L967.5 353.3 L967.5 359.7 Z" fill="#1a1a1a"/>
<path d="M973.3 404.5 L967.5 401.3 L967.5 407.7 Z" fill="#1a1a1a"/>
<path d="M668 402.5 H748.5 V351.5" fill="none" stroke="#1a1a1a" stroke-width="1.2"/>
<path d="M713 402.5 L707.2 399.3 L707.2 405.7 Z" fill="#1a1a1a"/>
<path d="M668 459.5 H698.5 V402.5" fill="none" stroke="#1a1a1a" stroke-width="1.1" stroke-dasharray="4 3"/>
<path d="M827.5 346 V444.5" fill="none" stroke="#1a1a1a" stroke-width="1.2"/>
<path d="M827.5 413.9 L824.3 419.4 L830.7 419.4 Z" fill="#1a1a1a"/>
<path d="M827.5 437.3 L824.3 431.8 L830.7 431.8 Z" fill="#1a1a1a"/>
<text x="976.3" y="185.9" font-size="11.7" fill="#222">LAPTOP</text>
<text x="973.2" y="244.8" font-size="11.7" fill="#222">LIGHTING</text>
<text x="975.2" y="310" font-size="11.7" fill="#222">PRINTER</text>
<text x="991.8" y="377.6" font-size="11.7" fill="#222">TV</text>
<text x="985.3" y="437.9" font-size="11.7" fill="#222">FANS</text>
<text x="607.6" y="425.4" font-size="11.7" fill="#222">AC INPUT</text>
<text x="603.3" y="497.1" font-size="11.7" fill="#222">GENERATOR</text>
<text x="801.6" y="505" font-size="11.7" fill="#222">BATTERY</text>
<path d="M986 150.2 H1012.9 V167.5 H986 Z" fill="#1a0c0e"/>
<path d="M987.5 151.5 H1011.4 V166.3 H987.5 Z" fill="#0c0809"/><path d="M988 153.5 H1000" stroke="#4a1a20" stroke-width="0.9" opacity="0.8"/><path d="M988 165.2 H1011" stroke="#5a2228" stroke-width="0.8"/>
<path d="M983.5 167.5 H1015.5 L1017.6 170.8 Q1017.6 171.8 1016.5 171.8 H982.4 Q981.3 171.8 981.3 170.8 Z" fill="#3a1418"/>
<path d="M986 168.6 H1013" stroke="#7a3038" stroke-width="0.8"/>
<linearGradient id="bulbG" x1="0" y1="0" x2="1" y2="0"><stop offset="0" stop-color="#d8d8d8"/><stop offset="0.45" stop-color="#fbfbfb"/><stop offset="1" stop-color="#cfcfcf"/></linearGradient>
<path d="M999.7 201.4 Q1007.8 201.4 1007.8 210 Q1007.8 215 1003.5 219.5 L1002.8 225.5 H996.6 L995.9 219.5 Q991.6 215 991.6 210 Q991.6 201.4 999.7 201.4 Z" fill="url(#bulbG)" stroke="#ddd" stroke-width="0.4"/>
<path d="M996.3 225.5 H1003 V230 Q1003 231.5 999.7 231.5 Q996.3 231.5 996.3 230 Z" fill="#3a3a3a"/><path d="M996.3 227.3 H1003 M996.3 229 H1003" stroke="#888" stroke-width="0.5"/>
<linearGradient id="prnG" x1="0" y1="0" x2="0" y2="1"><stop offset="0" stop-color="#e2e2e2"/><stop offset="0.6" stop-color="#c8c8c8"/><stop offset="1" stop-color="#a8a8a8"/></linearGradient>
<path d="M986.7 273.1 L1017.8 274.5 Q1019.6 275 1019.3 277 L1017.2 281.6 L979.6 280.6 Z" fill="#cdcdcd" stroke="#444" stroke-width="0.9" stroke-linejoin="round"/>
<path d="M1017.2 281.6 L1019.3 277 V290.5 L1017.4 294.8 Z" fill="#3a3a3a"/>
<path d="M979.6 280.6 L1017.2 281.6 L1017.4 294.8 Q1017 295.6 1015.5 295.6 L982 294.4 Q979.4 293.6 979.4 291.5 Z" fill="url(#prnG)"/>
<path d="M979.6 280.6 L1017.2 281.6" stroke="#1a1a1a" stroke-width="1.4"/>
<path d="M979.6 291.2 L1017.3 292.6 L1017.4 294.8 Q1017 295.6 1015.5 295.6 L982 294.4 Q979.4 293.6 979.6 291.2 Z" fill="#1e1e1e"/>
<circle cx="999.5" cy="276.8" r="1" fill="#999"/>
<linearGradient id="tvG" x1="0" y1="0" x2="0" y2="1"><stop offset="0" stop-color="#b8a4dc"/><stop offset="0.22" stop-color="#a292d2"/><stop offset="0.45" stop-color="#7472b2"/><stop offset="0.62" stop-color="#3e3e72"/><stop offset="0.7" stop-color="#1e1e40"/><stop offset="0.78" stop-color="#6a68b0"/><stop offset="1" stop-color="#4a4a8a"/></linearGradient>
<rect x="979.1" y="338.3" width="40.6" height="23.6" fill="url(#tvG)"/>
<path d="M979.1 344 H985 V354 H979.1 Z M1005 345 H1012 V354 H1005 Z M1012 348 H1019.7 V354 H1012 Z" fill="#3a3a6a" opacity="0.55"/>
<rect x="990" y="343.2" width="11.8" height="9.5" fill="#e4e0f4"/><rect x="993" y="345.5" width="6" height="6.5" fill="#8a86c0"/>
<path d="M990 355 H1002 V361 H990 Z" fill="#b8b4e0" opacity="0.6"/>
<path d="M982 366.5 L985.5 362 M1017 366.5 L1013.5 362" stroke="#c4aca4" stroke-width="0.9"/>
<circle cx="999.5" cy="393.9" r="6.2" fill="#d2d2d2"/><circle cx="999.5" cy="393.9" r="4.5" fill="none" stroke="#b0b0b0" stroke-width="1.2" stroke-dasharray="1.5 1.2"/><circle cx="999.5" cy="393.9" r="1.8" fill="#222"/>
<path d="M999.5 395.7 V421" stroke="#222" stroke-width="1.1"/><ellipse cx="999.5" cy="422.2" rx="5" ry="1.7" fill="#222"/>
<path d="M1007.6 405 L1009.6 409.5" stroke="#222" stroke-width="1.5" stroke-linecap="round"/>
<path d="M632.5 376.7 Q640 378 653 382 M634.8 383.2 Q645 386 655 387.4 M633.6 390 Q645 393 654 392.8 M616.8 376.7 Q628 372 653 382" fill="none" stroke="#333" stroke-width="0.7"/>
<path d=" M616.8 377.0 L624.8 372.2 L632.8 377.0 Z M614.2 383.5 L624.8 378.0 L635.2 383.5 Z M615.8 390.2 L624.8 385.2 L633.8 390.2 Z" fill="#fff" stroke="#1a1a1a" stroke-width="1.3" stroke-linejoin="round"/>
<path d=" M620.8 374.6 L628.8 377.0 M628.8 374.6 L620.8 377.0 M619.5 380.8 L630.0 383.5 M630.0 380.8 L619.5 383.5 M620.2 387.7 L629.2 390.2 M629.2 387.7 L620.2 390.2" stroke="#333" stroke-width="0.7"/>
<path d="M623.15 375.2 L620.15 408.8 M626.35 375.2 L629.35 408.8" stroke="#1a1a1a" stroke-width="1.3"/>
<path d=" M623.1 375.2 L626.8 380.0 M626.4 375.2 L622.7 380.0 M622.7 380.0 H626.8 M622.7 380.0 L627.2 384.8 M626.8 380.0 L622.3 384.8 M622.3 384.8 H627.2 M622.3 384.8 L627.6 389.6 M627.2 384.8 L621.9 389.6 M621.9 389.6 H627.6 M621.9 389.6 L628.1 394.4 M627.6 389.6 L621.4 394.4 M621.4 394.4 H628.1 M621.4 394.4 L628.5 399.2 M628.1 394.4 L621.0 399.2 M621.0 399.2 H628.5 M621.0 399.2 L628.9 404.0 M628.5 399.2 L620.6 404.0 M620.6 404.0 H628.9 M620.6 404.0 L629.4 408.8 M628.9 404.0 L620.1 408.8 M620.1 408.8 H629.4" stroke="#1a1a1a" stroke-width="0.85"/>
<rect x="617.9" y="408.4" width="13.6" height="1.7" fill="#111"/>
<path d=" M639.9 382.3 L646.9 379.0 L653.9 382.3 Z M638.5 387.6 L646.9 383.6 L655.3 387.6 Z M639.4 392.8 L646.9 388.8 L654.4 392.8 Z" fill="#fff" stroke="#1a1a1a" stroke-width="1.3" stroke-linejoin="round"/>
<path d=" M643.4 380.7 L650.4 382.3 M650.4 380.7 L643.4 382.3 M642.7 385.6 L651.1 387.6 M651.1 385.6 L642.7 387.6 M643.1 390.8 L650.6 392.8 M650.6 390.8 L643.1 392.8" stroke="#333" stroke-width="0.7"/>
<path d="M645.3 382 L643.5 407 M648.5 382 L650.3 407" stroke="#1a1a1a" stroke-width="1.3"/>
<path d=" M645.3 382.0 L648.8 385.6 M648.5 382.0 L645.0 385.6 M645.0 385.6 H648.8 M645.0 385.6 L649.0 389.1 M648.8 385.6 L644.8 389.1 M644.8 389.1 H649.0 M644.8 389.1 L649.3 392.7 M649.0 389.1 L644.5 392.7 M644.5 392.7 H649.3 M644.5 392.7 L649.5 396.3 M649.3 392.7 L644.3 396.3 M644.3 396.3 H649.5 M644.3 396.3 L649.8 399.9 M649.5 396.3 L644.0 399.9 M644.0 399.9 H649.8 M644.0 399.9 L650.0 403.4 M649.8 399.9 L643.8 403.4 M643.8 403.4 H650.0 M643.8 403.4 L650.3 407.0 M650.0 403.4 L643.5 407.0 M643.5 407.0 H650.3" stroke="#1a1a1a" stroke-width="0.85"/>
<rect x="641.3" y="406.6" width="11.2" height="1.7" fill="#111"/>
<path d="M616 448 L631 444.5 L663.6 446 V470 L630.2 480.3 L616 472.3 Z" fill="#222226"/>
<path d="M616 448 L631 444.5 L663.6 446 V448.5 L631 447 L616 450.5 Z" fill="#b89a3a"/>
<path d="M621 449.5 L632 447.5 V455 L621 457 Z" fill="#e2c23a"/>
<path d="M633 455.5 L643 454.5 V460 L633 461 Z" fill="#e4cc5a"/>
<path d="M650 451.5 L663 450 V464 L650 466 Z" fill="#b89c5a"/>
<path d="M652.5 451.5 V465.5 M655.5 451 V465 M658.5 450.8 V464.7 M661 450.5 V464.3" stroke="#7a6228" stroke-width="0.7"/>
<path d="M640 448 L660 447.5" stroke="#d8c050" stroke-width="1.2"/>
<ellipse cx="656" cy="468.5" rx="4.5" ry="3.2" fill="#d8d8d8"/><ellipse cx="646.5" cy="471.5" rx="2.8" ry="2" fill="#888"/>
<path d="M636 460 L645 459 V466 L636 467 Z" fill="#3a3a4a"/>
<path d="M617 472 L630.5 479.5 L663 469.5" fill="none" stroke="#050505" stroke-width="1.6"/>
<path d="M631 476 L638 474 M640 473.5 L647 471.5" stroke="#ddd" stroke-width="1"/>
<path d="M770 440.2 Q770 437.7 772.5 437.7 H813.0 Q815.5 437.7 815.5 440.2 V460.7 Q815.5 461.7 814.5 461.7 H771 Q770 461.7 770 460.7 Z" fill="#1a1a1a"/>
<path d="M772 438.2 H813.5" stroke="#9a9a9a" stroke-width="0.7"/>
<rect x="770" y="438.7" width="45.5" height="2.6" fill="#2c2c2c"/>
<path d="M770.4 440.7 V460.7" stroke="#555" stroke-width="0.6"/>
<text x="776" y="448.9" font-size="3.8" font-weight="bold" fill="#e4e4e4">MUST</text>
<rect x="776" y="450.3" width="10" height="0.6" fill="#666"/><rect x="776" y="451.9" width="8" height="0.6" fill="#555"/>
<rect x="776" y="456.7" width="2.5" height="0.9" fill="#999"/><rect x="781.5" y="456.2" width="1" height="2" fill="#999"/><rect x="783.5" y="456.2" width="1" height="2" fill="#999"/>
<rect x="809.0" y="441.7" width="5.5" height="18" fill="#242424"/><path d="M810.5 442.7 V458.7 M812.5 442.7 V458.7" stroke="#3a3a3a" stroke-width="0.6"/>
<path d="M791 450.7 Q791 448.2 793.5 448.2 H834.0 Q836.5 448.2 836.5 450.7 V471.2 Q836.5 472.2 835.5 472.2 H792 Q791 472.2 791 471.2 Z" fill="#1a1a1a"/>
<path d="M793 448.7 H834.5" stroke="#9a9a9a" stroke-width="0.7"/>
<rect x="791" y="449.2" width="45.5" height="2.6" fill="#2c2c2c"/>
<path d="M791.4 451.2 V471.2" stroke="#555" stroke-width="0.6"/>
<text x="797" y="459.4" font-size="3.8" font-weight="bold" fill="#e4e4e4">MUST</text>
<rect x="797" y="460.8" width="10" height="0.6" fill="#666"/><rect x="797" y="462.4" width="8" height="0.6" fill="#555"/>
<rect x="797" y="467.2" width="2.5" height="0.9" fill="#999"/><rect x="802.5" y="466.7" width="1" height="2" fill="#999"/><rect x="804.5" y="466.7" width="1" height="2" fill="#999"/>
<rect x="830.0" y="452.2" width="5.5" height="18" fill="#242424"/><path d="M831.5 453.2 V469.2 M833.5 453.2 V469.2" stroke="#3a3a3a" stroke-width="0.6"/>
<path d="M812 460.4 Q812 457.9 814.5 457.9 H855.0 Q857.5 457.9 857.5 460.4 V480.9 Q857.5 481.9 856.5 481.9 H813 Q812 481.9 812 480.9 Z" fill="#1a1a1a"/>
<path d="M814 458.4 H855.5" stroke="#9a9a9a" stroke-width="0.7"/>
<rect x="812" y="458.9" width="45.5" height="2.6" fill="#2c2c2c"/>
<path d="M812.4 460.9 V480.9" stroke="#555" stroke-width="0.6"/>
<text x="818" y="469.09999999999997" font-size="3.8" font-weight="bold" fill="#e4e4e4">MUST</text>
<rect x="818" y="470.5" width="10" height="0.6" fill="#666"/><rect x="818" y="472.09999999999997" width="8" height="0.6" fill="#555"/>
<rect x="818" y="476.9" width="2.5" height="0.9" fill="#999"/><rect x="823.5" y="476.4" width="1" height="2" fill="#999"/><rect x="825.5" y="476.4" width="1" height="2" fill="#999"/>
<rect x="851.0" y="461.9" width="5.5" height="18" fill="#242424"/><path d="M852.5 462.9 V478.9 M854.5 462.9 V478.9" stroke="#3a3a3a" stroke-width="0.6"/>
<path d="M832.2 466.5 Q832.2 464 834.7 464 H875.1 Q877.6 464 877.6 466.5 V488.5 Q877.6 489.5 876.6 489.5 H833.2 Q832.2 489.5 832.2 488.5 Z" fill="#1a1a1a"/>
<path d="M834.2 464.5 H875.6" stroke="#9a9a9a" stroke-width="0.7"/>
<rect x="832.2" y="465" width="45.4" height="2.6" fill="#2c2c2c"/>
<path d="M832.6 467 V488.5" stroke="#555" stroke-width="0.6"/>
<text x="838.2" y="475.2" font-size="3.8" font-weight="bold" fill="#e4e4e4">MUST</text>
<rect x="838.2" y="476.6" width="10" height="0.6" fill="#666"/><rect x="838.2" y="478.2" width="8" height="0.6" fill="#555"/>
<rect x="838.2" y="483" width="2.5" height="0.9" fill="#999"/><rect x="843.7" y="482.5" width="1" height="2" fill="#999"/><rect x="845.7" y="482.5" width="1" height="2" fill="#999"/>
<rect x="871.1" y="468" width="5.5" height="19.5" fill="#242424"/><path d="M872.6 469 V486.5 M874.6 469 V486.5" stroke="#3a3a3a" stroke-width="0.6"/>
</svg></body></html>
